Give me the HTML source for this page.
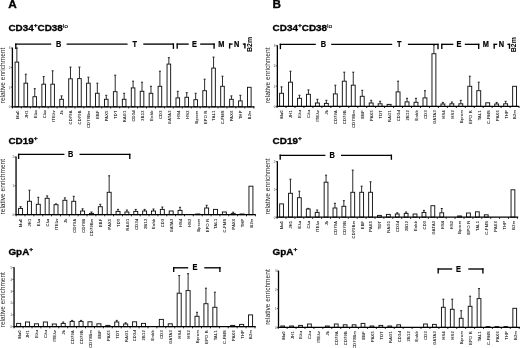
<!DOCTYPE html>
<html lang="en">
<head>
<meta charset="utf-8">
<title>Figure: relative enrichment in CD34+CD38lo, CD19+ and GpA+ cells</title>
<style>
html,body{margin:0;padding:0;background:#fff;}
body{width:520px;height:348px;overflow:hidden;font-family:"Liberation Sans",Arial,sans-serif;}
svg{display:block;}
svg text{font-family:"Liberation Sans",Arial,Helvetica,sans-serif;}
</style>
</head>
<body>
<svg width="520" height="348" viewBox="0 0 520 348">
<rect x="0" y="0" width="520" height="348" fill="#ffffff"/>
<g id="chart-A1">
<line x1="16.87" y1="62.1" x2="16.87" y2="48" stroke="#222" stroke-width="0.95" />
<line x1="15.87" y1="48" x2="17.87" y2="48" stroke="#222" stroke-width="1.0" />
<rect x="15.07" y="62.1" width="3.6" height="44.7" fill="#fff" stroke="#141414" stroke-width="0.95"/>
<line x1="25.81" y1="83.2" x2="25.81" y2="74.2" stroke="#222" stroke-width="0.95" />
<line x1="24.81" y1="74.2" x2="26.81" y2="74.2" stroke="#222" stroke-width="1.0" />
<rect x="24.01" y="83.2" width="3.6" height="23.6" fill="#fff" stroke="#141414" stroke-width="0.95"/>
<line x1="34.75" y1="96.7" x2="34.75" y2="88.7" stroke="#222" stroke-width="0.95" />
<line x1="33.75" y1="88.7" x2="35.75" y2="88.7" stroke="#222" stroke-width="1.0" />
<rect x="32.95" y="96.7" width="3.6" height="10.1" fill="#fff" stroke="#141414" stroke-width="0.95"/>
<line x1="43.69" y1="84.2" x2="43.69" y2="76.6" stroke="#222" stroke-width="0.95" />
<line x1="42.69" y1="76.6" x2="44.69" y2="76.6" stroke="#222" stroke-width="1.0" />
<rect x="41.89" y="84.2" width="3.6" height="22.6" fill="#fff" stroke="#141414" stroke-width="0.95"/>
<line x1="52.63" y1="84.2" x2="52.63" y2="70.8" stroke="#222" stroke-width="0.95" />
<line x1="51.63" y1="70.8" x2="53.63" y2="70.8" stroke="#222" stroke-width="1.0" />
<rect x="50.83" y="84.2" width="3.6" height="22.6" fill="#fff" stroke="#141414" stroke-width="0.95"/>
<line x1="61.57" y1="99.3" x2="61.57" y2="95.9" stroke="#222" stroke-width="0.95" />
<line x1="60.57" y1="95.9" x2="62.57" y2="95.9" stroke="#222" stroke-width="1.0" />
<rect x="59.77" y="99.3" width="3.6" height="7.5" fill="#fff" stroke="#141414" stroke-width="0.95"/>
<line x1="70.51" y1="78.8" x2="70.51" y2="67.1" stroke="#222" stroke-width="0.95" />
<line x1="69.51" y1="67.1" x2="71.51" y2="67.1" stroke="#222" stroke-width="1.0" />
<rect x="68.71" y="78.8" width="3.6" height="28" fill="#fff" stroke="#141414" stroke-width="0.95"/>
<line x1="79.45" y1="78.6" x2="79.45" y2="67.1" stroke="#222" stroke-width="0.95" />
<line x1="78.45" y1="67.1" x2="80.45" y2="67.1" stroke="#222" stroke-width="1.0" />
<rect x="77.65" y="78.6" width="3.6" height="28.2" fill="#fff" stroke="#141414" stroke-width="0.95"/>
<line x1="88.39" y1="83.2" x2="88.39" y2="77.2" stroke="#222" stroke-width="0.95" />
<line x1="87.39" y1="77.2" x2="89.39" y2="77.2" stroke="#222" stroke-width="1.0" />
<rect x="86.59" y="83.2" width="3.6" height="23.6" fill="#fff" stroke="#141414" stroke-width="0.95"/>
<line x1="97.33" y1="93.3" x2="97.33" y2="83.2" stroke="#222" stroke-width="0.95" />
<line x1="96.33" y1="83.2" x2="98.33" y2="83.2" stroke="#222" stroke-width="1.0" />
<rect x="95.53" y="93.3" width="3.6" height="13.5" fill="#fff" stroke="#141414" stroke-width="0.95"/>
<line x1="106.27" y1="99.3" x2="106.27" y2="95.3" stroke="#222" stroke-width="0.95" />
<line x1="105.27" y1="95.3" x2="107.27" y2="95.3" stroke="#222" stroke-width="1.0" />
<rect x="104.47" y="99.3" width="3.6" height="7.5" fill="#fff" stroke="#141414" stroke-width="0.95"/>
<line x1="115.21" y1="91.7" x2="115.21" y2="75.2" stroke="#222" stroke-width="0.95" />
<line x1="114.21" y1="75.2" x2="116.21" y2="75.2" stroke="#222" stroke-width="1.0" />
<rect x="113.41" y="91.7" width="3.6" height="15.1" fill="#fff" stroke="#141414" stroke-width="0.95"/>
<line x1="124.15" y1="99.3" x2="124.15" y2="93.3" stroke="#222" stroke-width="0.95" />
<line x1="123.15" y1="93.3" x2="125.15" y2="93.3" stroke="#222" stroke-width="1.0" />
<rect x="122.35" y="99.3" width="3.6" height="7.5" fill="#fff" stroke="#141414" stroke-width="0.95"/>
<line x1="133.09" y1="87.9" x2="133.09" y2="81.2" stroke="#222" stroke-width="0.95" />
<line x1="132.09" y1="81.2" x2="134.09" y2="81.2" stroke="#222" stroke-width="1.0" />
<rect x="131.29" y="87.9" width="3.6" height="18.9" fill="#fff" stroke="#141414" stroke-width="0.95"/>
<line x1="142.03" y1="91.3" x2="142.03" y2="82.2" stroke="#222" stroke-width="0.95" />
<line x1="141.03" y1="82.2" x2="143.03" y2="82.2" stroke="#222" stroke-width="1.0" />
<rect x="140.23" y="91.3" width="3.6" height="15.5" fill="#fff" stroke="#141414" stroke-width="0.95"/>
<line x1="150.97" y1="93.3" x2="150.97" y2="86.3" stroke="#222" stroke-width="0.95" />
<line x1="149.97" y1="86.3" x2="151.97" y2="86.3" stroke="#222" stroke-width="1.0" />
<rect x="149.17" y="93.3" width="3.6" height="13.5" fill="#fff" stroke="#141414" stroke-width="0.95"/>
<line x1="159.91" y1="86.3" x2="159.91" y2="71.2" stroke="#222" stroke-width="0.95" />
<line x1="158.91" y1="71.2" x2="160.91" y2="71.2" stroke="#222" stroke-width="1.0" />
<rect x="158.11" y="86.3" width="3.6" height="20.5" fill="#fff" stroke="#141414" stroke-width="0.95"/>
<line x1="168.85" y1="64.1" x2="168.85" y2="57.7" stroke="#222" stroke-width="0.95" />
<line x1="167.85" y1="57.7" x2="169.85" y2="57.7" stroke="#222" stroke-width="1.0" />
<rect x="167.05" y="64.1" width="3.6" height="42.7" fill="#fff" stroke="#141414" stroke-width="0.95"/>
<line x1="177.79" y1="97.9" x2="177.79" y2="91.3" stroke="#222" stroke-width="0.95" />
<line x1="176.79" y1="91.3" x2="178.79" y2="91.3" stroke="#222" stroke-width="1.0" />
<rect x="175.99" y="97.9" width="3.6" height="8.9" fill="#fff" stroke="#141414" stroke-width="0.95"/>
<line x1="186.73" y1="97.3" x2="186.73" y2="92.7" stroke="#222" stroke-width="0.95" />
<line x1="185.73" y1="92.7" x2="187.73" y2="92.7" stroke="#222" stroke-width="1.0" />
<rect x="184.93" y="97.3" width="3.6" height="9.5" fill="#fff" stroke="#141414" stroke-width="0.95"/>
<line x1="195.67" y1="99.7" x2="195.67" y2="93.3" stroke="#222" stroke-width="0.95" />
<line x1="194.67" y1="93.3" x2="196.67" y2="93.3" stroke="#222" stroke-width="1.0" />
<rect x="193.87" y="99.7" width="3.6" height="7.1" fill="#fff" stroke="#141414" stroke-width="0.95"/>
<line x1="204.61" y1="90.7" x2="204.61" y2="79.2" stroke="#222" stroke-width="0.95" />
<line x1="203.61" y1="79.2" x2="205.61" y2="79.2" stroke="#222" stroke-width="1.0" />
<rect x="202.81" y="90.7" width="3.6" height="16.1" fill="#fff" stroke="#141414" stroke-width="0.95"/>
<line x1="213.55" y1="68.1" x2="213.55" y2="57.1" stroke="#222" stroke-width="0.95" />
<line x1="212.55" y1="57.1" x2="214.55" y2="57.1" stroke="#222" stroke-width="1.0" />
<rect x="211.75" y="68.1" width="3.6" height="38.7" fill="#fff" stroke="#141414" stroke-width="0.95"/>
<line x1="222.49" y1="86.3" x2="222.49" y2="76.2" stroke="#222" stroke-width="0.95" />
<line x1="221.49" y1="76.2" x2="223.49" y2="76.2" stroke="#222" stroke-width="1.0" />
<rect x="220.69" y="86.3" width="3.6" height="20.5" fill="#fff" stroke="#141414" stroke-width="0.95"/>
<line x1="231.43" y1="99.3" x2="231.43" y2="95.9" stroke="#222" stroke-width="0.95" />
<line x1="230.43" y1="95.9" x2="232.43" y2="95.9" stroke="#222" stroke-width="1.0" />
<rect x="229.63" y="99.3" width="3.6" height="7.5" fill="#fff" stroke="#141414" stroke-width="0.95"/>
<line x1="240.37" y1="100.9" x2="240.37" y2="95.3" stroke="#222" stroke-width="0.95" />
<line x1="239.37" y1="95.3" x2="241.37" y2="95.3" stroke="#222" stroke-width="1.0" />
<rect x="238.57" y="100.9" width="3.6" height="5.9" fill="#fff" stroke="#141414" stroke-width="0.95"/>
<rect x="247.51" y="87.3" width="3.6" height="19.5" fill="#fff" stroke="#141414" stroke-width="0.95"/>
<line x1="12.4" y1="47.6" x2="12.4" y2="107.3" stroke="#000" stroke-width="1.3" />
<line x1="11.8" y1="106.8" x2="254.5" y2="106.8" stroke="#000" stroke-width="1.3" />
<line x1="10.7" y1="48" x2="12.4" y2="48" stroke="#333" stroke-width="0.8" />
<text x="10.4" y="49.4" font-size="2.9" font-weight="normal" text-anchor="end" fill="#444" >3</text>
<line x1="10.7" y1="67.6" x2="12.4" y2="67.6" stroke="#333" stroke-width="0.8" />
<text x="10.4" y="69" font-size="2.9" font-weight="normal" text-anchor="end" fill="#444" >2</text>
<line x1="10.7" y1="87.2" x2="12.4" y2="87.2" stroke="#333" stroke-width="0.8" />
<text x="10.4" y="88.6" font-size="2.9" font-weight="normal" text-anchor="end" fill="#444" >1</text>
<line x1="10.7" y1="106.8" x2="12.4" y2="106.8" stroke="#333" stroke-width="0.8" />
<text x="10.4" y="108.2" font-size="2.9" font-weight="normal" text-anchor="end" fill="#444" >0</text>
<line x1="12.4" y1="106.8" x2="12.4" y2="108.4" stroke="#000" stroke-width="0.9" />
<line x1="21.34" y1="106.8" x2="21.34" y2="108.4" stroke="#000" stroke-width="0.9" />
<line x1="30.28" y1="106.8" x2="30.28" y2="108.4" stroke="#000" stroke-width="0.9" />
<line x1="39.22" y1="106.8" x2="39.22" y2="108.4" stroke="#000" stroke-width="0.9" />
<line x1="48.16" y1="106.8" x2="48.16" y2="108.4" stroke="#000" stroke-width="0.9" />
<line x1="57.1" y1="106.8" x2="57.1" y2="108.4" stroke="#000" stroke-width="0.9" />
<line x1="66.04" y1="106.8" x2="66.04" y2="108.4" stroke="#000" stroke-width="0.9" />
<line x1="74.98" y1="106.8" x2="74.98" y2="108.4" stroke="#000" stroke-width="0.9" />
<line x1="83.92" y1="106.8" x2="83.92" y2="108.4" stroke="#000" stroke-width="0.9" />
<line x1="92.86" y1="106.8" x2="92.86" y2="108.4" stroke="#000" stroke-width="0.9" />
<line x1="101.8" y1="106.8" x2="101.8" y2="108.4" stroke="#000" stroke-width="0.9" />
<line x1="110.74" y1="106.8" x2="110.74" y2="108.4" stroke="#000" stroke-width="0.9" />
<line x1="119.68" y1="106.8" x2="119.68" y2="108.4" stroke="#000" stroke-width="0.9" />
<line x1="128.62" y1="106.8" x2="128.62" y2="108.4" stroke="#000" stroke-width="0.9" />
<line x1="137.56" y1="106.8" x2="137.56" y2="108.4" stroke="#000" stroke-width="0.9" />
<line x1="146.5" y1="106.8" x2="146.5" y2="108.4" stroke="#000" stroke-width="0.9" />
<line x1="155.44" y1="106.8" x2="155.44" y2="108.4" stroke="#000" stroke-width="0.9" />
<line x1="164.38" y1="106.8" x2="164.38" y2="108.4" stroke="#000" stroke-width="0.9" />
<line x1="173.32" y1="106.8" x2="173.32" y2="108.4" stroke="#000" stroke-width="0.9" />
<line x1="182.26" y1="106.8" x2="182.26" y2="108.4" stroke="#000" stroke-width="0.9" />
<line x1="191.2" y1="106.8" x2="191.2" y2="108.4" stroke="#000" stroke-width="0.9" />
<line x1="200.14" y1="106.8" x2="200.14" y2="108.4" stroke="#000" stroke-width="0.9" />
<line x1="209.08" y1="106.8" x2="209.08" y2="108.4" stroke="#000" stroke-width="0.9" />
<line x1="218.02" y1="106.8" x2="218.02" y2="108.4" stroke="#000" stroke-width="0.9" />
<line x1="226.96" y1="106.8" x2="226.96" y2="108.4" stroke="#000" stroke-width="0.9" />
<line x1="235.9" y1="106.8" x2="235.9" y2="108.4" stroke="#000" stroke-width="0.9" />
<line x1="244.84" y1="106.8" x2="244.84" y2="108.4" stroke="#000" stroke-width="0.9" />
<line x1="253.78" y1="106.8" x2="253.78" y2="108.4" stroke="#000" stroke-width="0.9" />
<text transform="translate(18.77 110.3) rotate(-90)" font-size="3.95" font-weight="normal" text-anchor="end" fill="#262626" letter-spacing="0.3" stroke="#262626" stroke-width="0.1">Mu0</text>
<text transform="translate(27.71 110.3) rotate(-90)" font-size="3.95" font-weight="normal" text-anchor="end" fill="#262626" letter-spacing="0.3" stroke="#262626" stroke-width="0.1">JH1</text>
<text transform="translate(36.65 110.3) rotate(-90)" font-size="3.95" font-weight="normal" text-anchor="end" fill="#262626" letter-spacing="0.3" stroke="#262626" stroke-width="0.1">Eλu</text>
<text transform="translate(45.59 110.3) rotate(-90)" font-size="3.95" font-weight="normal" text-anchor="end" fill="#262626" letter-spacing="0.3" stroke="#262626" stroke-width="0.1">Cλu</text>
<text transform="translate(54.53 110.3) rotate(-90)" font-size="3.95" font-weight="normal" text-anchor="end" fill="#262626" letter-spacing="0.3" stroke="#262626" stroke-width="0.1">ITEλv</text>
<text transform="translate(63.47 110.3) rotate(-90)" font-size="3.95" font-weight="normal" text-anchor="end" fill="#262626" letter-spacing="0.3" stroke="#262626" stroke-width="0.1">Jk</text>
<text transform="translate(72.41 110.3) rotate(-90)" font-size="3.95" font-weight="normal" text-anchor="end" fill="#262626" letter-spacing="0.3" stroke="#262626" stroke-width="0.1">CD79A</text>
<text transform="translate(81.35 110.3) rotate(-90)" font-size="3.95" font-weight="normal" text-anchor="end" fill="#262626" letter-spacing="0.3" stroke="#262626" stroke-width="0.1">CD79B</text>
<text transform="translate(90.29 110.3) rotate(-90)" font-size="3.95" font-weight="normal" text-anchor="end" fill="#262626" letter-spacing="0.3" stroke="#262626" stroke-width="0.1">CD79Bm</text>
<text transform="translate(99.23 110.3) rotate(-90)" font-size="3.95" font-weight="normal" text-anchor="end" fill="#262626" letter-spacing="0.3" stroke="#262626" stroke-width="0.1">EBF</text>
<text transform="translate(108.17 110.3) rotate(-90)" font-size="3.95" font-weight="normal" text-anchor="end" fill="#262626" letter-spacing="0.3" stroke="#262626" stroke-width="0.1">PAX5</text>
<text transform="translate(117.11 110.3) rotate(-90)" font-size="3.95" font-weight="normal" text-anchor="end" fill="#262626" letter-spacing="0.3" stroke="#262626" stroke-width="0.1">TDT</text>
<text transform="translate(126.05 110.3) rotate(-90)" font-size="3.95" font-weight="normal" text-anchor="end" fill="#262626" letter-spacing="0.3" stroke="#262626" stroke-width="0.1">RAG1</text>
<text transform="translate(134.99 110.3) rotate(-90)" font-size="3.95" font-weight="normal" text-anchor="end" fill="#262626" letter-spacing="0.3" stroke="#262626" stroke-width="0.1">CD3d</text>
<text transform="translate(143.93 110.3) rotate(-90)" font-size="3.95" font-weight="normal" text-anchor="end" fill="#262626" letter-spacing="0.3" stroke="#262626" stroke-width="0.1">2B12</text>
<text transform="translate(152.87 110.3) rotate(-90)" font-size="3.95" font-weight="normal" text-anchor="end" fill="#262626" letter-spacing="0.3" stroke="#262626" stroke-width="0.1">Enhb</text>
<text transform="translate(161.81 110.3) rotate(-90)" font-size="3.95" font-weight="normal" text-anchor="end" fill="#262626" letter-spacing="0.3" stroke="#262626" stroke-width="0.1">CD3</text>
<text transform="translate(170.75 110.3) rotate(-90)" font-size="3.95" font-weight="normal" text-anchor="end" fill="#262626" letter-spacing="0.3" stroke="#262626" stroke-width="0.1">GATA3</text>
<text transform="translate(179.69 110.3) rotate(-90)" font-size="3.95" font-weight="normal" text-anchor="end" fill="#262626" letter-spacing="0.3" stroke="#262626" stroke-width="0.1">HS4</text>
<text transform="translate(188.63 110.3) rotate(-90)" font-size="3.95" font-weight="normal" text-anchor="end" fill="#262626" letter-spacing="0.3" stroke="#262626" stroke-width="0.1">HS2</text>
<text transform="translate(197.57 110.3) rotate(-90)" font-size="3.95" font-weight="normal" text-anchor="end" fill="#262626" letter-spacing="0.3" stroke="#262626" stroke-width="0.1">Bprom</text>
<text transform="translate(206.51 110.3) rotate(-90)" font-size="3.95" font-weight="normal" text-anchor="end" fill="#262626" letter-spacing="0.3" stroke="#262626" stroke-width="0.1">EPO R</text>
<text transform="translate(215.45 110.3) rotate(-90)" font-size="3.95" font-weight="normal" text-anchor="end" fill="#262626" letter-spacing="0.3" stroke="#262626" stroke-width="0.1">TAL1</text>
<text transform="translate(224.39 110.3) rotate(-90)" font-size="3.95" font-weight="normal" text-anchor="end" fill="#262626" letter-spacing="0.3" stroke="#262626" stroke-width="0.1">C-FMS</text>
<text transform="translate(233.33 110.3) rotate(-90)" font-size="3.95" font-weight="normal" text-anchor="end" fill="#262626" letter-spacing="0.3" stroke="#262626" stroke-width="0.1">PAX6</text>
<text transform="translate(242.27 110.3) rotate(-90)" font-size="3.95" font-weight="normal" text-anchor="end" fill="#262626" letter-spacing="0.3" stroke="#262626" stroke-width="0.1">THP</text>
<text transform="translate(251.21 110.3) rotate(-90)" font-size="3.95" font-weight="normal" text-anchor="end" fill="#262626" letter-spacing="0.3" stroke="#262626" stroke-width="0.1">B2m</text>
<text transform="translate(5 75.5) rotate(-90) scale(1.02 1)" font-size="6.47" font-weight="normal" text-anchor="middle" fill="#262626" >relative enrichment</text>
</g>
<g id="chart-B1">
<line x1="281.55" y1="93.3" x2="281.55" y2="86.9" stroke="#222" stroke-width="0.95" />
<line x1="280.55" y1="86.9" x2="282.55" y2="86.9" stroke="#222" stroke-width="1.0" />
<rect x="279.6" y="93.3" width="3.9" height="13.1" fill="#fff" stroke="#141414" stroke-width="0.95"/>
<line x1="290.51" y1="82.2" x2="290.51" y2="71.2" stroke="#222" stroke-width="0.95" />
<line x1="289.51" y1="71.2" x2="291.51" y2="71.2" stroke="#222" stroke-width="1.0" />
<rect x="288.56" y="82.2" width="3.9" height="24.2" fill="#fff" stroke="#141414" stroke-width="0.95"/>
<line x1="299.48" y1="98.3" x2="299.48" y2="95.3" stroke="#222" stroke-width="0.95" />
<line x1="298.48" y1="95.3" x2="300.48" y2="95.3" stroke="#222" stroke-width="1.0" />
<rect x="297.53" y="98.3" width="3.9" height="8.1" fill="#fff" stroke="#141414" stroke-width="0.95"/>
<line x1="308.44" y1="94.3" x2="308.44" y2="89.9" stroke="#222" stroke-width="0.95" />
<line x1="307.44" y1="89.9" x2="309.44" y2="89.9" stroke="#222" stroke-width="1.0" />
<rect x="306.49" y="94.3" width="3.9" height="12.1" fill="#fff" stroke="#141414" stroke-width="0.95"/>
<line x1="317.4" y1="103" x2="317.4" y2="99.3" stroke="#222" stroke-width="0.95" />
<line x1="316.4" y1="99.3" x2="318.4" y2="99.3" stroke="#222" stroke-width="1.0" />
<rect x="315.45" y="103" width="3.9" height="3.4" fill="#fff" stroke="#141414" stroke-width="0.95"/>
<line x1="326.37" y1="103.4" x2="326.37" y2="100.3" stroke="#222" stroke-width="0.95" />
<line x1="325.37" y1="100.3" x2="327.37" y2="100.3" stroke="#222" stroke-width="1.0" />
<rect x="324.42" y="103.4" width="3.9" height="3" fill="#fff" stroke="#141414" stroke-width="0.95"/>
<line x1="335.33" y1="93.9" x2="335.33" y2="85.2" stroke="#222" stroke-width="0.95" />
<line x1="334.33" y1="85.2" x2="336.33" y2="85.2" stroke="#222" stroke-width="1.0" />
<rect x="333.38" y="93.9" width="3.9" height="12.5" fill="#fff" stroke="#141414" stroke-width="0.95"/>
<line x1="344.29" y1="81.2" x2="344.29" y2="72.2" stroke="#222" stroke-width="0.95" />
<line x1="343.29" y1="72.2" x2="345.29" y2="72.2" stroke="#222" stroke-width="1.0" />
<rect x="342.34" y="81.2" width="3.9" height="25.2" fill="#fff" stroke="#141414" stroke-width="0.95"/>
<line x1="353.25" y1="85.2" x2="353.25" y2="72.2" stroke="#222" stroke-width="0.95" />
<line x1="352.25" y1="72.2" x2="354.25" y2="72.2" stroke="#222" stroke-width="1.0" />
<rect x="351.3" y="85.2" width="3.9" height="21.2" fill="#fff" stroke="#141414" stroke-width="0.95"/>
<line x1="362.22" y1="96.3" x2="362.22" y2="90.3" stroke="#222" stroke-width="0.95" />
<line x1="361.22" y1="90.3" x2="363.22" y2="90.3" stroke="#222" stroke-width="1.0" />
<rect x="360.27" y="96.3" width="3.9" height="10.1" fill="#fff" stroke="#141414" stroke-width="0.95"/>
<line x1="371.18" y1="103" x2="371.18" y2="100.3" stroke="#222" stroke-width="0.95" />
<line x1="370.18" y1="100.3" x2="372.18" y2="100.3" stroke="#222" stroke-width="1.0" />
<rect x="369.23" y="103" width="3.9" height="3.4" fill="#fff" stroke="#141414" stroke-width="0.95"/>
<line x1="380.14" y1="103.8" x2="380.14" y2="101.3" stroke="#222" stroke-width="0.95" />
<line x1="379.14" y1="101.3" x2="381.14" y2="101.3" stroke="#222" stroke-width="1.0" />
<rect x="378.19" y="103.8" width="3.9" height="2.6" fill="#fff" stroke="#141414" stroke-width="0.95"/>
<rect x="387.16" y="104.4" width="3.9" height="2" fill="#fff" stroke="#141414" stroke-width="0.95"/>
<line x1="398.07" y1="91.9" x2="398.07" y2="81.2" stroke="#222" stroke-width="0.95" />
<line x1="397.07" y1="81.2" x2="399.07" y2="81.2" stroke="#222" stroke-width="1.0" />
<rect x="396.12" y="91.9" width="3.9" height="14.5" fill="#fff" stroke="#141414" stroke-width="0.95"/>
<line x1="407.03" y1="101.9" x2="407.03" y2="98.3" stroke="#222" stroke-width="0.95" />
<line x1="406.03" y1="98.3" x2="408.03" y2="98.3" stroke="#222" stroke-width="1.0" />
<rect x="405.08" y="101.9" width="3.9" height="4.5" fill="#fff" stroke="#141414" stroke-width="0.95"/>
<line x1="416" y1="102.3" x2="416" y2="98.3" stroke="#222" stroke-width="0.95" />
<line x1="415" y1="98.3" x2="417" y2="98.3" stroke="#222" stroke-width="1.0" />
<rect x="414.05" y="102.3" width="3.9" height="4.1" fill="#fff" stroke="#141414" stroke-width="0.95"/>
<line x1="424.96" y1="97.9" x2="424.96" y2="90.7" stroke="#222" stroke-width="0.95" />
<line x1="423.96" y1="90.7" x2="425.96" y2="90.7" stroke="#222" stroke-width="1.0" />
<rect x="423.01" y="97.9" width="3.9" height="8.5" fill="#fff" stroke="#141414" stroke-width="0.95"/>
<line x1="433.92" y1="53.7" x2="433.92" y2="45" stroke="#222" stroke-width="0.95" />
<line x1="432.92" y1="45" x2="434.92" y2="45" stroke="#222" stroke-width="1.0" />
<rect x="431.97" y="53.7" width="3.9" height="52.7" fill="#fff" stroke="#141414" stroke-width="0.95"/>
<line x1="442.88" y1="104" x2="442.88" y2="102.4" stroke="#222" stroke-width="0.95" />
<line x1="441.88" y1="102.4" x2="443.88" y2="102.4" stroke="#222" stroke-width="1.0" />
<rect x="440.93" y="104" width="3.9" height="2.4" fill="#fff" stroke="#141414" stroke-width="0.95"/>
<line x1="451.85" y1="103.8" x2="451.85" y2="102" stroke="#222" stroke-width="0.95" />
<line x1="450.85" y1="102" x2="452.85" y2="102" stroke="#222" stroke-width="1.0" />
<rect x="449.9" y="103.8" width="3.9" height="2.6" fill="#fff" stroke="#141414" stroke-width="0.95"/>
<line x1="460.81" y1="103.8" x2="460.81" y2="100.3" stroke="#222" stroke-width="0.95" />
<line x1="459.81" y1="100.3" x2="461.81" y2="100.3" stroke="#222" stroke-width="1.0" />
<rect x="458.86" y="103.8" width="3.9" height="2.6" fill="#fff" stroke="#141414" stroke-width="0.95"/>
<line x1="469.77" y1="86.3" x2="469.77" y2="76.2" stroke="#222" stroke-width="0.95" />
<line x1="468.77" y1="76.2" x2="470.77" y2="76.2" stroke="#222" stroke-width="1.0" />
<rect x="467.82" y="86.3" width="3.9" height="20.1" fill="#fff" stroke="#141414" stroke-width="0.95"/>
<line x1="478.74" y1="90.7" x2="478.74" y2="82.2" stroke="#222" stroke-width="0.95" />
<line x1="477.74" y1="82.2" x2="479.74" y2="82.2" stroke="#222" stroke-width="1.0" />
<rect x="476.79" y="90.7" width="3.9" height="15.7" fill="#fff" stroke="#141414" stroke-width="0.95"/>
<rect x="485.75" y="102.8" width="3.9" height="3.6" fill="#fff" stroke="#141414" stroke-width="0.95"/>
<line x1="496.66" y1="104" x2="496.66" y2="102.4" stroke="#222" stroke-width="0.95" />
<line x1="495.66" y1="102.4" x2="497.66" y2="102.4" stroke="#222" stroke-width="1.0" />
<rect x="494.71" y="104" width="3.9" height="2.4" fill="#fff" stroke="#141414" stroke-width="0.95"/>
<line x1="505.62" y1="103.8" x2="505.62" y2="101.3" stroke="#222" stroke-width="0.95" />
<line x1="504.62" y1="101.3" x2="506.62" y2="101.3" stroke="#222" stroke-width="1.0" />
<rect x="503.68" y="103.8" width="3.9" height="2.6" fill="#fff" stroke="#141414" stroke-width="0.95"/>
<rect x="512.64" y="86.3" width="3.9" height="20.1" fill="#fff" stroke="#141414" stroke-width="0.95"/>
<line x1="277.35" y1="45.2" x2="277.35" y2="106.9" stroke="#000" stroke-width="1.3" />
<line x1="276.75" y1="106.4" x2="519.2" y2="106.4" stroke="#000" stroke-width="1.3" />
<line x1="275.65" y1="45.6" x2="277.35" y2="45.6" stroke="#333" stroke-width="0.8" />
<text x="275.35" y="47" font-size="2.9" font-weight="normal" text-anchor="end" fill="#444" >3</text>
<line x1="275.65" y1="65.87" x2="277.35" y2="65.87" stroke="#333" stroke-width="0.8" />
<text x="275.35" y="67.27" font-size="2.9" font-weight="normal" text-anchor="end" fill="#444" >2</text>
<line x1="275.65" y1="86.13" x2="277.35" y2="86.13" stroke="#333" stroke-width="0.8" />
<text x="275.35" y="87.53" font-size="2.9" font-weight="normal" text-anchor="end" fill="#444" >1</text>
<line x1="275.65" y1="106.4" x2="277.35" y2="106.4" stroke="#333" stroke-width="0.8" />
<text x="275.35" y="107.8" font-size="2.9" font-weight="normal" text-anchor="end" fill="#444" >0</text>
<line x1="277.07" y1="106.4" x2="277.07" y2="108" stroke="#000" stroke-width="0.9" />
<line x1="286.03" y1="106.4" x2="286.03" y2="108" stroke="#000" stroke-width="0.9" />
<line x1="294.99" y1="106.4" x2="294.99" y2="108" stroke="#000" stroke-width="0.9" />
<line x1="303.96" y1="106.4" x2="303.96" y2="108" stroke="#000" stroke-width="0.9" />
<line x1="312.92" y1="106.4" x2="312.92" y2="108" stroke="#000" stroke-width="0.9" />
<line x1="321.88" y1="106.4" x2="321.88" y2="108" stroke="#000" stroke-width="0.9" />
<line x1="330.85" y1="106.4" x2="330.85" y2="108" stroke="#000" stroke-width="0.9" />
<line x1="339.81" y1="106.4" x2="339.81" y2="108" stroke="#000" stroke-width="0.9" />
<line x1="348.77" y1="106.4" x2="348.77" y2="108" stroke="#000" stroke-width="0.9" />
<line x1="357.74" y1="106.4" x2="357.74" y2="108" stroke="#000" stroke-width="0.9" />
<line x1="366.7" y1="106.4" x2="366.7" y2="108" stroke="#000" stroke-width="0.9" />
<line x1="375.66" y1="106.4" x2="375.66" y2="108" stroke="#000" stroke-width="0.9" />
<line x1="384.62" y1="106.4" x2="384.62" y2="108" stroke="#000" stroke-width="0.9" />
<line x1="393.59" y1="106.4" x2="393.59" y2="108" stroke="#000" stroke-width="0.9" />
<line x1="402.55" y1="106.4" x2="402.55" y2="108" stroke="#000" stroke-width="0.9" />
<line x1="411.51" y1="106.4" x2="411.51" y2="108" stroke="#000" stroke-width="0.9" />
<line x1="420.48" y1="106.4" x2="420.48" y2="108" stroke="#000" stroke-width="0.9" />
<line x1="429.44" y1="106.4" x2="429.44" y2="108" stroke="#000" stroke-width="0.9" />
<line x1="438.4" y1="106.4" x2="438.4" y2="108" stroke="#000" stroke-width="0.9" />
<line x1="447.37" y1="106.4" x2="447.37" y2="108" stroke="#000" stroke-width="0.9" />
<line x1="456.33" y1="106.4" x2="456.33" y2="108" stroke="#000" stroke-width="0.9" />
<line x1="465.29" y1="106.4" x2="465.29" y2="108" stroke="#000" stroke-width="0.9" />
<line x1="474.25" y1="106.4" x2="474.25" y2="108" stroke="#000" stroke-width="0.9" />
<line x1="483.22" y1="106.4" x2="483.22" y2="108" stroke="#000" stroke-width="0.9" />
<line x1="492.18" y1="106.4" x2="492.18" y2="108" stroke="#000" stroke-width="0.9" />
<line x1="501.14" y1="106.4" x2="501.14" y2="108" stroke="#000" stroke-width="0.9" />
<line x1="510.11" y1="106.4" x2="510.11" y2="108" stroke="#000" stroke-width="0.9" />
<line x1="519.07" y1="106.4" x2="519.07" y2="108" stroke="#000" stroke-width="0.9" />
<text transform="translate(283.45 110) rotate(-90)" font-size="3.95" font-weight="normal" text-anchor="end" fill="#262626" letter-spacing="0.3" stroke="#262626" stroke-width="0.1">Mu0</text>
<text transform="translate(292.41 110) rotate(-90)" font-size="3.95" font-weight="normal" text-anchor="end" fill="#262626" letter-spacing="0.3" stroke="#262626" stroke-width="0.1">JH1</text>
<text transform="translate(301.38 110) rotate(-90)" font-size="3.95" font-weight="normal" text-anchor="end" fill="#262626" letter-spacing="0.3" stroke="#262626" stroke-width="0.1">Eλu</text>
<text transform="translate(310.34 110) rotate(-90)" font-size="3.95" font-weight="normal" text-anchor="end" fill="#262626" letter-spacing="0.3" stroke="#262626" stroke-width="0.1">Cλu</text>
<text transform="translate(319.3 110) rotate(-90)" font-size="3.95" font-weight="normal" text-anchor="end" fill="#262626" letter-spacing="0.3" stroke="#262626" stroke-width="0.1">ITEλv</text>
<text transform="translate(328.26 110) rotate(-90)" font-size="3.95" font-weight="normal" text-anchor="end" fill="#262626" letter-spacing="0.3" stroke="#262626" stroke-width="0.1">Jk</text>
<text transform="translate(337.23 110) rotate(-90)" font-size="3.95" font-weight="normal" text-anchor="end" fill="#262626" letter-spacing="0.3" stroke="#262626" stroke-width="0.1">CD79A</text>
<text transform="translate(346.19 110) rotate(-90)" font-size="3.95" font-weight="normal" text-anchor="end" fill="#262626" letter-spacing="0.3" stroke="#262626" stroke-width="0.1">CD79B</text>
<text transform="translate(355.15 110) rotate(-90)" font-size="3.95" font-weight="normal" text-anchor="end" fill="#262626" letter-spacing="0.3" stroke="#262626" stroke-width="0.1">CD79Bm</text>
<text transform="translate(364.12 110) rotate(-90)" font-size="3.95" font-weight="normal" text-anchor="end" fill="#262626" letter-spacing="0.3" stroke="#262626" stroke-width="0.1">EBF</text>
<text transform="translate(373.08 110) rotate(-90)" font-size="3.95" font-weight="normal" text-anchor="end" fill="#262626" letter-spacing="0.3" stroke="#262626" stroke-width="0.1">PAX5</text>
<text transform="translate(382.04 110) rotate(-90)" font-size="3.95" font-weight="normal" text-anchor="end" fill="#262626" letter-spacing="0.3" stroke="#262626" stroke-width="0.1">TDT</text>
<text transform="translate(391.01 110) rotate(-90)" font-size="3.95" font-weight="normal" text-anchor="end" fill="#262626" letter-spacing="0.3" stroke="#262626" stroke-width="0.1">RAG1</text>
<text transform="translate(399.97 110) rotate(-90)" font-size="3.95" font-weight="normal" text-anchor="end" fill="#262626" letter-spacing="0.3" stroke="#262626" stroke-width="0.1">CD3d</text>
<text transform="translate(408.93 110) rotate(-90)" font-size="3.95" font-weight="normal" text-anchor="end" fill="#262626" letter-spacing="0.3" stroke="#262626" stroke-width="0.1">2B12</text>
<text transform="translate(417.89 110) rotate(-90)" font-size="3.95" font-weight="normal" text-anchor="end" fill="#262626" letter-spacing="0.3" stroke="#262626" stroke-width="0.1">Enhb</text>
<text transform="translate(426.86 110) rotate(-90)" font-size="3.95" font-weight="normal" text-anchor="end" fill="#262626" letter-spacing="0.3" stroke="#262626" stroke-width="0.1">CD3</text>
<text transform="translate(435.82 110) rotate(-90)" font-size="3.95" font-weight="normal" text-anchor="end" fill="#262626" letter-spacing="0.3" stroke="#262626" stroke-width="0.1">GATA3</text>
<text transform="translate(444.78 110) rotate(-90)" font-size="3.95" font-weight="normal" text-anchor="end" fill="#262626" letter-spacing="0.3" stroke="#262626" stroke-width="0.1">HS4</text>
<text transform="translate(453.75 110) rotate(-90)" font-size="3.95" font-weight="normal" text-anchor="end" fill="#262626" letter-spacing="0.3" stroke="#262626" stroke-width="0.1">HS2</text>
<text transform="translate(462.71 110) rotate(-90)" font-size="3.95" font-weight="normal" text-anchor="end" fill="#262626" letter-spacing="0.3" stroke="#262626" stroke-width="0.1">Bprom</text>
<text transform="translate(471.67 110) rotate(-90)" font-size="3.95" font-weight="normal" text-anchor="end" fill="#262626" letter-spacing="0.3" stroke="#262626" stroke-width="0.1">EPO R</text>
<text transform="translate(480.64 110) rotate(-90)" font-size="3.95" font-weight="normal" text-anchor="end" fill="#262626" letter-spacing="0.3" stroke="#262626" stroke-width="0.1">TAL1</text>
<text transform="translate(489.6 110) rotate(-90)" font-size="3.95" font-weight="normal" text-anchor="end" fill="#262626" letter-spacing="0.3" stroke="#262626" stroke-width="0.1">C-FMS</text>
<text transform="translate(498.56 110) rotate(-90)" font-size="3.95" font-weight="normal" text-anchor="end" fill="#262626" letter-spacing="0.3" stroke="#262626" stroke-width="0.1">PAX6</text>
<text transform="translate(507.52 110) rotate(-90)" font-size="3.95" font-weight="normal" text-anchor="end" fill="#262626" letter-spacing="0.3" stroke="#262626" stroke-width="0.1">THP</text>
<text transform="translate(516.49 110) rotate(-90)" font-size="3.95" font-weight="normal" text-anchor="end" fill="#262626" letter-spacing="0.3" stroke="#262626" stroke-width="0.1">B2m</text>
<text transform="translate(270 75.3) rotate(-90) scale(1.02 1)" font-size="6.47" font-weight="normal" text-anchor="middle" fill="#262626" >relative enrichment</text>
</g>
<g id="chart-A2">
<line x1="20.58" y1="208.4" x2="20.58" y2="206.7" stroke="#222" stroke-width="0.95" />
<line x1="19.58" y1="206.7" x2="21.58" y2="206.7" stroke="#222" stroke-width="1.0" />
<rect x="18.6" y="208.4" width="3.95" height="6.3" fill="#fff" stroke="#141414" stroke-width="0.95"/>
<line x1="29.44" y1="201.3" x2="29.44" y2="190.2" stroke="#222" stroke-width="0.95" />
<line x1="28.44" y1="190.2" x2="30.44" y2="190.2" stroke="#222" stroke-width="1.0" />
<rect x="27.46" y="201.3" width="3.95" height="13.4" fill="#fff" stroke="#141414" stroke-width="0.95"/>
<line x1="38.3" y1="204.3" x2="38.3" y2="197.3" stroke="#222" stroke-width="0.95" />
<line x1="37.3" y1="197.3" x2="39.3" y2="197.3" stroke="#222" stroke-width="1.0" />
<rect x="36.32" y="204.3" width="3.95" height="10.4" fill="#fff" stroke="#141414" stroke-width="0.95"/>
<line x1="47.16" y1="198.3" x2="47.16" y2="195.9" stroke="#222" stroke-width="0.95" />
<line x1="46.16" y1="195.9" x2="48.16" y2="195.9" stroke="#222" stroke-width="1.0" />
<rect x="45.18" y="198.3" width="3.95" height="16.4" fill="#fff" stroke="#141414" stroke-width="0.95"/>
<line x1="56.02" y1="204.7" x2="56.02" y2="203.9" stroke="#222" stroke-width="0.95" />
<line x1="55.02" y1="203.9" x2="57.02" y2="203.9" stroke="#222" stroke-width="1.0" />
<rect x="54.04" y="204.7" width="3.95" height="10" fill="#fff" stroke="#141414" stroke-width="0.95"/>
<line x1="64.88" y1="200.3" x2="64.88" y2="197.9" stroke="#222" stroke-width="0.95" />
<line x1="63.88" y1="197.9" x2="65.88" y2="197.9" stroke="#222" stroke-width="1.0" />
<rect x="62.9" y="200.3" width="3.95" height="14.4" fill="#fff" stroke="#141414" stroke-width="0.95"/>
<line x1="73.73" y1="201.3" x2="73.73" y2="196.3" stroke="#222" stroke-width="0.95" />
<line x1="72.73" y1="196.3" x2="74.73" y2="196.3" stroke="#222" stroke-width="1.0" />
<rect x="71.76" y="201.3" width="3.95" height="13.4" fill="#fff" stroke="#141414" stroke-width="0.95"/>
<line x1="82.59" y1="211" x2="82.59" y2="208.8" stroke="#222" stroke-width="0.95" />
<line x1="81.59" y1="208.8" x2="83.59" y2="208.8" stroke="#222" stroke-width="1.0" />
<rect x="80.62" y="211" width="3.95" height="3.7" fill="#fff" stroke="#141414" stroke-width="0.95"/>
<line x1="91.45" y1="213.4" x2="91.45" y2="212" stroke="#222" stroke-width="0.95" />
<line x1="90.45" y1="212" x2="92.45" y2="212" stroke="#222" stroke-width="1.0" />
<rect x="89.48" y="213.4" width="3.95" height="1.3" fill="#fff" stroke="#141414" stroke-width="0.95"/>
<line x1="100.31" y1="206.7" x2="100.31" y2="204.3" stroke="#222" stroke-width="0.95" />
<line x1="99.31" y1="204.3" x2="101.31" y2="204.3" stroke="#222" stroke-width="1.0" />
<rect x="98.34" y="206.7" width="3.95" height="8" fill="#fff" stroke="#141414" stroke-width="0.95"/>
<line x1="109.17" y1="192.3" x2="109.17" y2="175.8" stroke="#222" stroke-width="0.95" />
<line x1="108.17" y1="175.8" x2="110.17" y2="175.8" stroke="#222" stroke-width="1.0" />
<rect x="107.2" y="192.3" width="3.95" height="22.4" fill="#fff" stroke="#141414" stroke-width="0.95"/>
<line x1="118.03" y1="211.4" x2="118.03" y2="209.4" stroke="#222" stroke-width="0.95" />
<line x1="117.03" y1="209.4" x2="119.03" y2="209.4" stroke="#222" stroke-width="1.0" />
<rect x="116.06" y="211.4" width="3.95" height="3.3" fill="#fff" stroke="#141414" stroke-width="0.95"/>
<line x1="126.89" y1="212" x2="126.89" y2="210" stroke="#222" stroke-width="0.95" />
<line x1="125.89" y1="210" x2="127.89" y2="210" stroke="#222" stroke-width="1.0" />
<rect x="124.92" y="212" width="3.95" height="2.7" fill="#fff" stroke="#141414" stroke-width="0.95"/>
<line x1="135.75" y1="211.4" x2="135.75" y2="209.4" stroke="#222" stroke-width="0.95" />
<line x1="134.75" y1="209.4" x2="136.75" y2="209.4" stroke="#222" stroke-width="1.0" />
<rect x="133.78" y="211.4" width="3.95" height="3.3" fill="#fff" stroke="#141414" stroke-width="0.95"/>
<line x1="144.61" y1="211" x2="144.61" y2="209.4" stroke="#222" stroke-width="0.95" />
<line x1="143.61" y1="209.4" x2="145.61" y2="209.4" stroke="#222" stroke-width="1.0" />
<rect x="142.64" y="211" width="3.95" height="3.7" fill="#fff" stroke="#141414" stroke-width="0.95"/>
<line x1="153.47" y1="211" x2="153.47" y2="209" stroke="#222" stroke-width="0.95" />
<line x1="152.47" y1="209" x2="154.47" y2="209" stroke="#222" stroke-width="1.0" />
<rect x="151.5" y="211" width="3.95" height="3.7" fill="#fff" stroke="#141414" stroke-width="0.95"/>
<line x1="162.33" y1="209.4" x2="162.33" y2="207" stroke="#222" stroke-width="0.95" />
<line x1="161.33" y1="207" x2="163.33" y2="207" stroke="#222" stroke-width="1.0" />
<rect x="160.36" y="209.4" width="3.95" height="5.3" fill="#fff" stroke="#141414" stroke-width="0.95"/>
<rect x="169.22" y="211" width="3.95" height="3.7" fill="#fff" stroke="#141414" stroke-width="0.95"/>
<line x1="180.05" y1="210.4" x2="180.05" y2="207.3" stroke="#222" stroke-width="0.95" />
<line x1="179.05" y1="207.3" x2="181.05" y2="207.3" stroke="#222" stroke-width="1.0" />
<rect x="178.08" y="210.4" width="3.95" height="4.3" fill="#fff" stroke="#141414" stroke-width="0.95"/>
<rect x="195.8" y="214" width="3.95" height="0.7" fill="#fff" stroke="#141414" stroke-width="0.95"/>
<line x1="206.63" y1="208" x2="206.63" y2="205.3" stroke="#222" stroke-width="0.95" />
<line x1="205.63" y1="205.3" x2="207.63" y2="205.3" stroke="#222" stroke-width="1.0" />
<rect x="204.66" y="208" width="3.95" height="6.7" fill="#fff" stroke="#141414" stroke-width="0.95"/>
<rect x="213.52" y="209.4" width="3.95" height="5.3" fill="#fff" stroke="#141414" stroke-width="0.95"/>
<rect x="222.38" y="212" width="3.95" height="2.7" fill="#fff" stroke="#141414" stroke-width="0.95"/>
<line x1="233.21" y1="213.6" x2="233.21" y2="212.2" stroke="#222" stroke-width="0.95" />
<line x1="232.21" y1="212.2" x2="234.21" y2="212.2" stroke="#222" stroke-width="1.0" />
<rect x="231.24" y="213.6" width="3.95" height="1.1" fill="#fff" stroke="#141414" stroke-width="0.95"/>
<rect x="240.1" y="214" width="3.95" height="0.7" fill="#fff" stroke="#141414" stroke-width="0.95"/>
<rect x="248.96" y="186.2" width="3.95" height="28.5" fill="#fff" stroke="#141414" stroke-width="0.95"/>
<line x1="16.05" y1="156.6" x2="16.05" y2="215.2" stroke="#000" stroke-width="1.3" />
<line x1="15.45" y1="214.7" x2="255.8" y2="214.7" stroke="#000" stroke-width="1.3" />
<line x1="14.35" y1="157" x2="16.05" y2="157" stroke="#333" stroke-width="0.8" />
<text x="14.05" y="158.4" font-size="2.9" font-weight="normal" text-anchor="end" fill="#444" >2</text>
<line x1="14.35" y1="185.85" x2="16.05" y2="185.85" stroke="#333" stroke-width="0.8" />
<text x="14.05" y="187.25" font-size="2.9" font-weight="normal" text-anchor="end" fill="#444" >1</text>
<line x1="14.35" y1="214.7" x2="16.05" y2="214.7" stroke="#333" stroke-width="0.8" />
<text x="14.05" y="216.1" font-size="2.9" font-weight="normal" text-anchor="end" fill="#444" >0</text>
<line x1="16.15" y1="214.7" x2="16.15" y2="216.3" stroke="#000" stroke-width="0.9" />
<line x1="25.01" y1="214.7" x2="25.01" y2="216.3" stroke="#000" stroke-width="0.9" />
<line x1="33.87" y1="214.7" x2="33.87" y2="216.3" stroke="#000" stroke-width="0.9" />
<line x1="42.73" y1="214.7" x2="42.73" y2="216.3" stroke="#000" stroke-width="0.9" />
<line x1="51.59" y1="214.7" x2="51.59" y2="216.3" stroke="#000" stroke-width="0.9" />
<line x1="60.45" y1="214.7" x2="60.45" y2="216.3" stroke="#000" stroke-width="0.9" />
<line x1="69.31" y1="214.7" x2="69.31" y2="216.3" stroke="#000" stroke-width="0.9" />
<line x1="78.16" y1="214.7" x2="78.16" y2="216.3" stroke="#000" stroke-width="0.9" />
<line x1="87.03" y1="214.7" x2="87.03" y2="216.3" stroke="#000" stroke-width="0.9" />
<line x1="95.88" y1="214.7" x2="95.88" y2="216.3" stroke="#000" stroke-width="0.9" />
<line x1="104.75" y1="214.7" x2="104.75" y2="216.3" stroke="#000" stroke-width="0.9" />
<line x1="113.6" y1="214.7" x2="113.6" y2="216.3" stroke="#000" stroke-width="0.9" />
<line x1="122.47" y1="214.7" x2="122.47" y2="216.3" stroke="#000" stroke-width="0.9" />
<line x1="131.32" y1="214.7" x2="131.32" y2="216.3" stroke="#000" stroke-width="0.9" />
<line x1="140.19" y1="214.7" x2="140.19" y2="216.3" stroke="#000" stroke-width="0.9" />
<line x1="149.04" y1="214.7" x2="149.04" y2="216.3" stroke="#000" stroke-width="0.9" />
<line x1="157.91" y1="214.7" x2="157.91" y2="216.3" stroke="#000" stroke-width="0.9" />
<line x1="166.77" y1="214.7" x2="166.77" y2="216.3" stroke="#000" stroke-width="0.9" />
<line x1="175.62" y1="214.7" x2="175.62" y2="216.3" stroke="#000" stroke-width="0.9" />
<line x1="184.48" y1="214.7" x2="184.48" y2="216.3" stroke="#000" stroke-width="0.9" />
<line x1="193.34" y1="214.7" x2="193.34" y2="216.3" stroke="#000" stroke-width="0.9" />
<line x1="202.21" y1="214.7" x2="202.21" y2="216.3" stroke="#000" stroke-width="0.9" />
<line x1="211.06" y1="214.7" x2="211.06" y2="216.3" stroke="#000" stroke-width="0.9" />
<line x1="219.92" y1="214.7" x2="219.92" y2="216.3" stroke="#000" stroke-width="0.9" />
<line x1="228.78" y1="214.7" x2="228.78" y2="216.3" stroke="#000" stroke-width="0.9" />
<line x1="237.65" y1="214.7" x2="237.65" y2="216.3" stroke="#000" stroke-width="0.9" />
<line x1="246.5" y1="214.7" x2="246.5" y2="216.3" stroke="#000" stroke-width="0.9" />
<line x1="255.36" y1="214.7" x2="255.36" y2="216.3" stroke="#000" stroke-width="0.9" />
<text transform="translate(22.48 218.5) rotate(-90)" font-size="3.95" font-weight="normal" text-anchor="end" fill="#262626" letter-spacing="0.3" stroke="#262626" stroke-width="0.1">Mu0</text>
<text transform="translate(31.34 218.5) rotate(-90)" font-size="3.95" font-weight="normal" text-anchor="end" fill="#262626" letter-spacing="0.3" stroke="#262626" stroke-width="0.1">JH1</text>
<text transform="translate(40.2 218.5) rotate(-90)" font-size="3.95" font-weight="normal" text-anchor="end" fill="#262626" letter-spacing="0.3" stroke="#262626" stroke-width="0.1">Eλu</text>
<text transform="translate(49.05 218.5) rotate(-90)" font-size="3.95" font-weight="normal" text-anchor="end" fill="#262626" letter-spacing="0.3" stroke="#262626" stroke-width="0.1">Cλu</text>
<text transform="translate(57.91 218.5) rotate(-90)" font-size="3.95" font-weight="normal" text-anchor="end" fill="#262626" letter-spacing="0.3" stroke="#262626" stroke-width="0.1">ITEλv</text>
<text transform="translate(66.78 218.5) rotate(-90)" font-size="3.95" font-weight="normal" text-anchor="end" fill="#262626" letter-spacing="0.3" stroke="#262626" stroke-width="0.1">Jk</text>
<text transform="translate(75.63 218.5) rotate(-90)" font-size="3.95" font-weight="normal" text-anchor="end" fill="#262626" letter-spacing="0.3" stroke="#262626" stroke-width="0.1">CD79A</text>
<text transform="translate(84.5 218.5) rotate(-90)" font-size="3.95" font-weight="normal" text-anchor="end" fill="#262626" letter-spacing="0.3" stroke="#262626" stroke-width="0.1">CD79B</text>
<text transform="translate(93.35 218.5) rotate(-90)" font-size="3.95" font-weight="normal" text-anchor="end" fill="#262626" letter-spacing="0.3" stroke="#262626" stroke-width="0.1">CD79Bm</text>
<text transform="translate(102.22 218.5) rotate(-90)" font-size="3.95" font-weight="normal" text-anchor="end" fill="#262626" letter-spacing="0.3" stroke="#262626" stroke-width="0.1">EBF</text>
<text transform="translate(111.07 218.5) rotate(-90)" font-size="3.95" font-weight="normal" text-anchor="end" fill="#262626" letter-spacing="0.3" stroke="#262626" stroke-width="0.1">PAX5</text>
<text transform="translate(119.94 218.5) rotate(-90)" font-size="3.95" font-weight="normal" text-anchor="end" fill="#262626" letter-spacing="0.3" stroke="#262626" stroke-width="0.1">TDT</text>
<text transform="translate(128.79 218.5) rotate(-90)" font-size="3.95" font-weight="normal" text-anchor="end" fill="#262626" letter-spacing="0.3" stroke="#262626" stroke-width="0.1">RAG1</text>
<text transform="translate(137.66 218.5) rotate(-90)" font-size="3.95" font-weight="normal" text-anchor="end" fill="#262626" letter-spacing="0.3" stroke="#262626" stroke-width="0.1">CD3d</text>
<text transform="translate(146.51 218.5) rotate(-90)" font-size="3.95" font-weight="normal" text-anchor="end" fill="#262626" letter-spacing="0.3" stroke="#262626" stroke-width="0.1">2B12</text>
<text transform="translate(155.37 218.5) rotate(-90)" font-size="3.95" font-weight="normal" text-anchor="end" fill="#262626" letter-spacing="0.3" stroke="#262626" stroke-width="0.1">Enhb</text>
<text transform="translate(164.23 218.5) rotate(-90)" font-size="3.95" font-weight="normal" text-anchor="end" fill="#262626" letter-spacing="0.3" stroke="#262626" stroke-width="0.1">CD3</text>
<text transform="translate(173.09 218.5) rotate(-90)" font-size="3.95" font-weight="normal" text-anchor="end" fill="#262626" letter-spacing="0.3" stroke="#262626" stroke-width="0.1">GATA3</text>
<text transform="translate(181.95 218.5) rotate(-90)" font-size="3.95" font-weight="normal" text-anchor="end" fill="#262626" letter-spacing="0.3" stroke="#262626" stroke-width="0.1">HS4</text>
<text transform="translate(190.81 218.5) rotate(-90)" font-size="3.95" font-weight="normal" text-anchor="end" fill="#262626" letter-spacing="0.3" stroke="#262626" stroke-width="0.1">HS2</text>
<text transform="translate(199.67 218.5) rotate(-90)" font-size="3.95" font-weight="normal" text-anchor="end" fill="#262626" letter-spacing="0.3" stroke="#262626" stroke-width="0.1">Bprom</text>
<text transform="translate(208.53 218.5) rotate(-90)" font-size="3.95" font-weight="normal" text-anchor="end" fill="#262626" letter-spacing="0.3" stroke="#262626" stroke-width="0.1">EPO R</text>
<text transform="translate(217.39 218.5) rotate(-90)" font-size="3.95" font-weight="normal" text-anchor="end" fill="#262626" letter-spacing="0.3" stroke="#262626" stroke-width="0.1">TAL1</text>
<text transform="translate(226.25 218.5) rotate(-90)" font-size="3.95" font-weight="normal" text-anchor="end" fill="#262626" letter-spacing="0.3" stroke="#262626" stroke-width="0.1">C-FMS</text>
<text transform="translate(235.11 218.5) rotate(-90)" font-size="3.95" font-weight="normal" text-anchor="end" fill="#262626" letter-spacing="0.3" stroke="#262626" stroke-width="0.1">PAX6</text>
<text transform="translate(243.97 218.5) rotate(-90)" font-size="3.95" font-weight="normal" text-anchor="end" fill="#262626" letter-spacing="0.3" stroke="#262626" stroke-width="0.1">THP</text>
<text transform="translate(252.83 218.5) rotate(-90)" font-size="3.95" font-weight="normal" text-anchor="end" fill="#262626" letter-spacing="0.3" stroke="#262626" stroke-width="0.1">B2m</text>
<text transform="translate(5 186.7) rotate(-90) scale(1.02 1)" font-size="6.45" font-weight="normal" text-anchor="middle" fill="#262626" >relative enrichment</text>
</g>
<g id="chart-B2">
<rect x="279.65" y="203.9" width="3.8" height="13.3" fill="#fff" stroke="#141414" stroke-width="0.95"/>
<line x1="290.45" y1="193.3" x2="290.45" y2="179.2" stroke="#222" stroke-width="0.95" />
<line x1="289.45" y1="179.2" x2="291.45" y2="179.2" stroke="#222" stroke-width="1.0" />
<rect x="288.55" y="193.3" width="3.8" height="23.9" fill="#fff" stroke="#141414" stroke-width="0.95"/>
<line x1="299.35" y1="197.7" x2="299.35" y2="191.2" stroke="#222" stroke-width="0.95" />
<line x1="298.35" y1="191.2" x2="300.35" y2="191.2" stroke="#222" stroke-width="1.0" />
<rect x="297.45" y="197.7" width="3.8" height="19.5" fill="#fff" stroke="#141414" stroke-width="0.95"/>
<line x1="308.25" y1="209" x2="308.25" y2="208.4" stroke="#222" stroke-width="0.95" />
<line x1="307.25" y1="208.4" x2="309.25" y2="208.4" stroke="#222" stroke-width="1.0" />
<rect x="306.35" y="209" width="3.8" height="8.2" fill="#fff" stroke="#141414" stroke-width="0.95"/>
<line x1="317.15" y1="212.4" x2="317.15" y2="210" stroke="#222" stroke-width="0.95" />
<line x1="316.15" y1="210" x2="318.15" y2="210" stroke="#222" stroke-width="1.0" />
<rect x="315.25" y="212.4" width="3.8" height="4.8" fill="#fff" stroke="#141414" stroke-width="0.95"/>
<line x1="326.05" y1="182.2" x2="326.05" y2="175.2" stroke="#222" stroke-width="0.95" />
<line x1="325.05" y1="175.2" x2="327.05" y2="175.2" stroke="#222" stroke-width="1.0" />
<rect x="324.15" y="182.2" width="3.8" height="35" fill="#fff" stroke="#141414" stroke-width="0.95"/>
<line x1="334.95" y1="208" x2="334.95" y2="203.3" stroke="#222" stroke-width="0.95" />
<line x1="333.95" y1="203.3" x2="335.95" y2="203.3" stroke="#222" stroke-width="1.0" />
<rect x="333.05" y="208" width="3.8" height="9.2" fill="#fff" stroke="#141414" stroke-width="0.95"/>
<line x1="343.85" y1="206.3" x2="343.85" y2="200.7" stroke="#222" stroke-width="0.95" />
<line x1="342.85" y1="200.7" x2="344.85" y2="200.7" stroke="#222" stroke-width="1.0" />
<rect x="341.95" y="206.3" width="3.8" height="10.9" fill="#fff" stroke="#141414" stroke-width="0.95"/>
<line x1="352.75" y1="192.3" x2="352.75" y2="170.1" stroke="#222" stroke-width="0.95" />
<line x1="351.75" y1="170.1" x2="353.75" y2="170.1" stroke="#222" stroke-width="1.0" />
<rect x="350.85" y="192.3" width="3.8" height="24.9" fill="#fff" stroke="#141414" stroke-width="0.95"/>
<line x1="361.65" y1="192.3" x2="361.65" y2="186.2" stroke="#222" stroke-width="0.95" />
<line x1="360.65" y1="186.2" x2="362.65" y2="186.2" stroke="#222" stroke-width="1.0" />
<rect x="359.75" y="192.3" width="3.8" height="24.9" fill="#fff" stroke="#141414" stroke-width="0.95"/>
<line x1="370.55" y1="192.3" x2="370.55" y2="181.8" stroke="#222" stroke-width="0.95" />
<line x1="369.55" y1="181.8" x2="371.55" y2="181.8" stroke="#222" stroke-width="1.0" />
<rect x="368.65" y="192.3" width="3.8" height="24.9" fill="#fff" stroke="#141414" stroke-width="0.95"/>
<rect x="377.55" y="215.4" width="3.8" height="1.8" fill="#fff" stroke="#141414" stroke-width="0.95"/>
<rect x="386.45" y="214.4" width="3.8" height="2.8" fill="#fff" stroke="#141414" stroke-width="0.95"/>
<line x1="397.25" y1="214" x2="397.25" y2="212.8" stroke="#222" stroke-width="0.95" />
<line x1="396.25" y1="212.8" x2="398.25" y2="212.8" stroke="#222" stroke-width="1.0" />
<rect x="395.35" y="214" width="3.8" height="3.2" fill="#fff" stroke="#141414" stroke-width="0.95"/>
<line x1="406.15" y1="213.4" x2="406.15" y2="212" stroke="#222" stroke-width="0.95" />
<line x1="405.15" y1="212" x2="407.15" y2="212" stroke="#222" stroke-width="1.0" />
<rect x="404.25" y="213.4" width="3.8" height="3.8" fill="#fff" stroke="#141414" stroke-width="0.95"/>
<rect x="413.15" y="214" width="3.8" height="3.2" fill="#fff" stroke="#141414" stroke-width="0.95"/>
<line x1="423.95" y1="212.4" x2="423.95" y2="210.4" stroke="#222" stroke-width="0.95" />
<line x1="422.95" y1="210.4" x2="424.95" y2="210.4" stroke="#222" stroke-width="1.0" />
<rect x="422.05" y="212.4" width="3.8" height="4.8" fill="#fff" stroke="#141414" stroke-width="0.95"/>
<rect x="430.95" y="205.7" width="3.8" height="11.5" fill="#fff" stroke="#141414" stroke-width="0.95"/>
<line x1="441.75" y1="212.8" x2="441.75" y2="208.5" stroke="#222" stroke-width="0.95" />
<line x1="440.75" y1="208.5" x2="442.75" y2="208.5" stroke="#222" stroke-width="1.0" />
<rect x="439.85" y="212.8" width="3.8" height="4.4" fill="#fff" stroke="#141414" stroke-width="0.95"/>
<rect x="457.65" y="216" width="3.8" height="1.2" fill="#fff" stroke="#141414" stroke-width="0.95"/>
<rect x="466.55" y="213" width="3.8" height="4.2" fill="#fff" stroke="#141414" stroke-width="0.95"/>
<rect x="475.45" y="211.8" width="3.8" height="5.4" fill="#fff" stroke="#141414" stroke-width="0.95"/>
<rect x="484.35" y="214.8" width="3.8" height="2.4" fill="#fff" stroke="#141414" stroke-width="0.95"/>
<rect x="511.05" y="189.8" width="3.8" height="27.4" fill="#fff" stroke="#141414" stroke-width="0.95"/>
<line x1="277.35" y1="161.2" x2="277.35" y2="217.7" stroke="#000" stroke-width="1.3" />
<line x1="276.75" y1="217.2" x2="518.2" y2="217.2" stroke="#000" stroke-width="1.3" />
<line x1="275.65" y1="161.6" x2="277.35" y2="161.6" stroke="#333" stroke-width="0.8" />
<text x="275.35" y="163" font-size="2.9" font-weight="normal" text-anchor="end" fill="#444" >2</text>
<line x1="275.65" y1="189.4" x2="277.35" y2="189.4" stroke="#333" stroke-width="0.8" />
<text x="275.35" y="190.8" font-size="2.9" font-weight="normal" text-anchor="end" fill="#444" >1</text>
<line x1="275.65" y1="217.2" x2="277.35" y2="217.2" stroke="#333" stroke-width="0.8" />
<text x="275.35" y="218.6" font-size="2.9" font-weight="normal" text-anchor="end" fill="#444" >0</text>
<line x1="277.1" y1="217.2" x2="277.1" y2="218.8" stroke="#000" stroke-width="0.9" />
<line x1="286" y1="217.2" x2="286" y2="218.8" stroke="#000" stroke-width="0.9" />
<line x1="294.9" y1="217.2" x2="294.9" y2="218.8" stroke="#000" stroke-width="0.9" />
<line x1="303.8" y1="217.2" x2="303.8" y2="218.8" stroke="#000" stroke-width="0.9" />
<line x1="312.7" y1="217.2" x2="312.7" y2="218.8" stroke="#000" stroke-width="0.9" />
<line x1="321.6" y1="217.2" x2="321.6" y2="218.8" stroke="#000" stroke-width="0.9" />
<line x1="330.5" y1="217.2" x2="330.5" y2="218.8" stroke="#000" stroke-width="0.9" />
<line x1="339.4" y1="217.2" x2="339.4" y2="218.8" stroke="#000" stroke-width="0.9" />
<line x1="348.3" y1="217.2" x2="348.3" y2="218.8" stroke="#000" stroke-width="0.9" />
<line x1="357.2" y1="217.2" x2="357.2" y2="218.8" stroke="#000" stroke-width="0.9" />
<line x1="366.1" y1="217.2" x2="366.1" y2="218.8" stroke="#000" stroke-width="0.9" />
<line x1="375" y1="217.2" x2="375" y2="218.8" stroke="#000" stroke-width="0.9" />
<line x1="383.9" y1="217.2" x2="383.9" y2="218.8" stroke="#000" stroke-width="0.9" />
<line x1="392.8" y1="217.2" x2="392.8" y2="218.8" stroke="#000" stroke-width="0.9" />
<line x1="401.7" y1="217.2" x2="401.7" y2="218.8" stroke="#000" stroke-width="0.9" />
<line x1="410.6" y1="217.2" x2="410.6" y2="218.8" stroke="#000" stroke-width="0.9" />
<line x1="419.5" y1="217.2" x2="419.5" y2="218.8" stroke="#000" stroke-width="0.9" />
<line x1="428.4" y1="217.2" x2="428.4" y2="218.8" stroke="#000" stroke-width="0.9" />
<line x1="437.3" y1="217.2" x2="437.3" y2="218.8" stroke="#000" stroke-width="0.9" />
<line x1="446.2" y1="217.2" x2="446.2" y2="218.8" stroke="#000" stroke-width="0.9" />
<line x1="455.1" y1="217.2" x2="455.1" y2="218.8" stroke="#000" stroke-width="0.9" />
<line x1="464" y1="217.2" x2="464" y2="218.8" stroke="#000" stroke-width="0.9" />
<line x1="472.9" y1="217.2" x2="472.9" y2="218.8" stroke="#000" stroke-width="0.9" />
<line x1="481.8" y1="217.2" x2="481.8" y2="218.8" stroke="#000" stroke-width="0.9" />
<line x1="490.7" y1="217.2" x2="490.7" y2="218.8" stroke="#000" stroke-width="0.9" />
<line x1="499.6" y1="217.2" x2="499.6" y2="218.8" stroke="#000" stroke-width="0.9" />
<line x1="508.5" y1="217.2" x2="508.5" y2="218.8" stroke="#000" stroke-width="0.9" />
<line x1="517.4" y1="217.2" x2="517.4" y2="218.8" stroke="#000" stroke-width="0.9" />
<text transform="translate(283.45 220.7) rotate(-90)" font-size="3.95" font-weight="normal" text-anchor="end" fill="#262626" letter-spacing="0.3" stroke="#262626" stroke-width="0.1">Mu0</text>
<text transform="translate(292.35 220.7) rotate(-90)" font-size="3.95" font-weight="normal" text-anchor="end" fill="#262626" letter-spacing="0.3" stroke="#262626" stroke-width="0.1">JH1</text>
<text transform="translate(301.25 220.7) rotate(-90)" font-size="3.95" font-weight="normal" text-anchor="end" fill="#262626" letter-spacing="0.3" stroke="#262626" stroke-width="0.1">Eλu</text>
<text transform="translate(310.15 220.7) rotate(-90)" font-size="3.95" font-weight="normal" text-anchor="end" fill="#262626" letter-spacing="0.3" stroke="#262626" stroke-width="0.1">Cλu</text>
<text transform="translate(319.05 220.7) rotate(-90)" font-size="3.95" font-weight="normal" text-anchor="end" fill="#262626" letter-spacing="0.3" stroke="#262626" stroke-width="0.1">ITEλv</text>
<text transform="translate(327.95 220.7) rotate(-90)" font-size="3.95" font-weight="normal" text-anchor="end" fill="#262626" letter-spacing="0.3" stroke="#262626" stroke-width="0.1">Jk</text>
<text transform="translate(336.85 220.7) rotate(-90)" font-size="3.95" font-weight="normal" text-anchor="end" fill="#262626" letter-spacing="0.3" stroke="#262626" stroke-width="0.1">CD79A</text>
<text transform="translate(345.75 220.7) rotate(-90)" font-size="3.95" font-weight="normal" text-anchor="end" fill="#262626" letter-spacing="0.3" stroke="#262626" stroke-width="0.1">CD79B</text>
<text transform="translate(354.65 220.7) rotate(-90)" font-size="3.95" font-weight="normal" text-anchor="end" fill="#262626" letter-spacing="0.3" stroke="#262626" stroke-width="0.1">CD79Bm</text>
<text transform="translate(363.55 220.7) rotate(-90)" font-size="3.95" font-weight="normal" text-anchor="end" fill="#262626" letter-spacing="0.3" stroke="#262626" stroke-width="0.1">EBF</text>
<text transform="translate(372.45 220.7) rotate(-90)" font-size="3.95" font-weight="normal" text-anchor="end" fill="#262626" letter-spacing="0.3" stroke="#262626" stroke-width="0.1">PAX5</text>
<text transform="translate(381.35 220.7) rotate(-90)" font-size="3.95" font-weight="normal" text-anchor="end" fill="#262626" letter-spacing="0.3" stroke="#262626" stroke-width="0.1">TDT</text>
<text transform="translate(390.25 220.7) rotate(-90)" font-size="3.95" font-weight="normal" text-anchor="end" fill="#262626" letter-spacing="0.3" stroke="#262626" stroke-width="0.1">RAG1</text>
<text transform="translate(399.15 220.7) rotate(-90)" font-size="3.95" font-weight="normal" text-anchor="end" fill="#262626" letter-spacing="0.3" stroke="#262626" stroke-width="0.1">CD3d</text>
<text transform="translate(408.05 220.7) rotate(-90)" font-size="3.95" font-weight="normal" text-anchor="end" fill="#262626" letter-spacing="0.3" stroke="#262626" stroke-width="0.1">2B12</text>
<text transform="translate(416.95 220.7) rotate(-90)" font-size="3.95" font-weight="normal" text-anchor="end" fill="#262626" letter-spacing="0.3" stroke="#262626" stroke-width="0.1">Enhb</text>
<text transform="translate(425.85 220.7) rotate(-90)" font-size="3.95" font-weight="normal" text-anchor="end" fill="#262626" letter-spacing="0.3" stroke="#262626" stroke-width="0.1">CD3</text>
<text transform="translate(434.75 220.7) rotate(-90)" font-size="3.95" font-weight="normal" text-anchor="end" fill="#262626" letter-spacing="0.3" stroke="#262626" stroke-width="0.1">GATA3</text>
<text transform="translate(443.65 220.7) rotate(-90)" font-size="3.95" font-weight="normal" text-anchor="end" fill="#262626" letter-spacing="0.3" stroke="#262626" stroke-width="0.1">HS4</text>
<text transform="translate(452.55 220.7) rotate(-90)" font-size="3.95" font-weight="normal" text-anchor="end" fill="#262626" letter-spacing="0.3" stroke="#262626" stroke-width="0.1">HS2</text>
<text transform="translate(461.45 220.7) rotate(-90)" font-size="3.95" font-weight="normal" text-anchor="end" fill="#262626" letter-spacing="0.3" stroke="#262626" stroke-width="0.1">Bprom</text>
<text transform="translate(470.35 220.7) rotate(-90)" font-size="3.95" font-weight="normal" text-anchor="end" fill="#262626" letter-spacing="0.3" stroke="#262626" stroke-width="0.1">EPO R</text>
<text transform="translate(479.25 220.7) rotate(-90)" font-size="3.95" font-weight="normal" text-anchor="end" fill="#262626" letter-spacing="0.3" stroke="#262626" stroke-width="0.1">TAL1</text>
<text transform="translate(488.15 220.7) rotate(-90)" font-size="3.95" font-weight="normal" text-anchor="end" fill="#262626" letter-spacing="0.3" stroke="#262626" stroke-width="0.1">C-FMS</text>
<text transform="translate(497.05 220.7) rotate(-90)" font-size="3.95" font-weight="normal" text-anchor="end" fill="#262626" letter-spacing="0.3" stroke="#262626" stroke-width="0.1">PAX6</text>
<text transform="translate(505.95 220.7) rotate(-90)" font-size="3.95" font-weight="normal" text-anchor="end" fill="#262626" letter-spacing="0.3" stroke="#262626" stroke-width="0.1">THP</text>
<text transform="translate(514.85 220.7) rotate(-90)" font-size="3.95" font-weight="normal" text-anchor="end" fill="#262626" letter-spacing="0.3" stroke="#262626" stroke-width="0.1">B2m</text>
<text transform="translate(270 186.4) rotate(-90) scale(1.02 1)" font-size="6.5" font-weight="normal" text-anchor="middle" fill="#262626" >relative enrichment</text>
</g>
<g id="chart-A3">
<rect x="16.6" y="323.4" width="4.05" height="3.3" fill="#fff" stroke="#141414" stroke-width="0.95"/>
<rect x="25.52" y="322" width="4.05" height="4.7" fill="#fff" stroke="#141414" stroke-width="0.95"/>
<rect x="34.44" y="323.8" width="4.05" height="2.9" fill="#fff" stroke="#141414" stroke-width="0.95"/>
<rect x="43.36" y="322" width="4.05" height="4.7" fill="#fff" stroke="#141414" stroke-width="0.95"/>
<rect x="52.28" y="324" width="4.05" height="2.7" fill="#fff" stroke="#141414" stroke-width="0.95"/>
<line x1="63.23" y1="323.4" x2="63.23" y2="322" stroke="#222" stroke-width="0.95" />
<line x1="62.23" y1="322" x2="64.22" y2="322" stroke="#222" stroke-width="1.0" />
<rect x="61.2" y="323.4" width="4.05" height="3.3" fill="#fff" stroke="#141414" stroke-width="0.95"/>
<line x1="72.15" y1="321.4" x2="72.15" y2="320.4" stroke="#222" stroke-width="0.95" />
<line x1="71.15" y1="320.4" x2="73.15" y2="320.4" stroke="#222" stroke-width="1.0" />
<rect x="70.12" y="321.4" width="4.05" height="5.3" fill="#fff" stroke="#141414" stroke-width="0.95"/>
<line x1="81.06" y1="321.4" x2="81.06" y2="320.4" stroke="#222" stroke-width="0.95" />
<line x1="80.06" y1="320.4" x2="82.06" y2="320.4" stroke="#222" stroke-width="1.0" />
<rect x="79.04" y="321.4" width="4.05" height="5.3" fill="#fff" stroke="#141414" stroke-width="0.95"/>
<rect x="87.96" y="321.8" width="4.05" height="4.9" fill="#fff" stroke="#141414" stroke-width="0.95"/>
<rect x="96.88" y="323.8" width="4.05" height="2.9" fill="#fff" stroke="#141414" stroke-width="0.95"/>
<rect x="105.8" y="325.4" width="4.05" height="1.3" fill="#fff" stroke="#141414" stroke-width="0.95"/>
<line x1="116.75" y1="322" x2="116.75" y2="320.4" stroke="#222" stroke-width="0.95" />
<line x1="115.75" y1="320.4" x2="117.75" y2="320.4" stroke="#222" stroke-width="1.0" />
<rect x="114.72" y="322" width="4.05" height="4.7" fill="#fff" stroke="#141414" stroke-width="0.95"/>
<line x1="125.66" y1="324" x2="125.66" y2="322.8" stroke="#222" stroke-width="0.95" />
<line x1="124.66" y1="322.8" x2="126.66" y2="322.8" stroke="#222" stroke-width="1.0" />
<rect x="123.64" y="324" width="4.05" height="2.7" fill="#fff" stroke="#141414" stroke-width="0.95"/>
<rect x="132.56" y="321.8" width="4.05" height="4.9" fill="#fff" stroke="#141414" stroke-width="0.95"/>
<rect x="141.48" y="323.4" width="4.05" height="3.3" fill="#fff" stroke="#141414" stroke-width="0.95"/>
<rect x="159.32" y="319.4" width="4.05" height="7.3" fill="#fff" stroke="#141414" stroke-width="0.95"/>
<rect x="168.24" y="323.8" width="4.05" height="2.9" fill="#fff" stroke="#141414" stroke-width="0.95"/>
<line x1="179.19" y1="293.2" x2="179.19" y2="275.6" stroke="#222" stroke-width="0.95" />
<line x1="178.19" y1="275.6" x2="180.19" y2="275.6" stroke="#222" stroke-width="1.0" />
<rect x="177.16" y="293.2" width="4.05" height="33.5" fill="#fff" stroke="#141414" stroke-width="0.95"/>
<line x1="188.1" y1="290.6" x2="188.1" y2="273.7" stroke="#222" stroke-width="0.95" />
<line x1="187.1" y1="273.7" x2="189.1" y2="273.7" stroke="#222" stroke-width="1.0" />
<rect x="186.08" y="290.6" width="4.05" height="36.1" fill="#fff" stroke="#141414" stroke-width="0.95"/>
<line x1="197.03" y1="316.3" x2="197.03" y2="312.3" stroke="#222" stroke-width="0.95" />
<line x1="196.03" y1="312.3" x2="198.03" y2="312.3" stroke="#222" stroke-width="1.0" />
<rect x="195" y="316.3" width="4.05" height="10.4" fill="#fff" stroke="#141414" stroke-width="0.95"/>
<line x1="205.94" y1="303.7" x2="205.94" y2="288.2" stroke="#222" stroke-width="0.95" />
<line x1="204.94" y1="288.2" x2="206.94" y2="288.2" stroke="#222" stroke-width="1.0" />
<rect x="203.92" y="303.7" width="4.05" height="23" fill="#fff" stroke="#141414" stroke-width="0.95"/>
<line x1="214.87" y1="307.3" x2="214.87" y2="292.2" stroke="#222" stroke-width="0.95" />
<line x1="213.87" y1="292.2" x2="215.87" y2="292.2" stroke="#222" stroke-width="1.0" />
<rect x="212.84" y="307.3" width="4.05" height="19.4" fill="#fff" stroke="#141414" stroke-width="0.95"/>
<rect x="230.68" y="325.4" width="4.05" height="1.3" fill="#fff" stroke="#141414" stroke-width="0.95"/>
<rect x="239.6" y="324.4" width="4.05" height="2.3" fill="#fff" stroke="#141414" stroke-width="0.95"/>
<rect x="248.52" y="314.9" width="4.05" height="11.8" fill="#fff" stroke="#141414" stroke-width="0.95"/>
<line x1="14.05" y1="267.2" x2="14.05" y2="327.2" stroke="#000" stroke-width="1.3" />
<line x1="13.45" y1="326.7" x2="255.7" y2="326.7" stroke="#000" stroke-width="1.3" />
<line x1="12.35" y1="267.6" x2="14.05" y2="267.6" stroke="#333" stroke-width="0.8" />
<text x="12.05" y="269" font-size="2.9" font-weight="normal" text-anchor="end" fill="#444" >5</text>
<line x1="12.35" y1="279.42" x2="14.05" y2="279.42" stroke="#333" stroke-width="0.8" />
<text x="12.05" y="280.82" font-size="2.9" font-weight="normal" text-anchor="end" fill="#444" >4</text>
<line x1="12.35" y1="291.24" x2="14.05" y2="291.24" stroke="#333" stroke-width="0.8" />
<text x="12.05" y="292.64" font-size="2.9" font-weight="normal" text-anchor="end" fill="#444" >3</text>
<line x1="12.35" y1="303.06" x2="14.05" y2="303.06" stroke="#333" stroke-width="0.8" />
<text x="12.05" y="304.46" font-size="2.9" font-weight="normal" text-anchor="end" fill="#444" >2</text>
<line x1="12.35" y1="314.88" x2="14.05" y2="314.88" stroke="#333" stroke-width="0.8" />
<text x="12.05" y="316.28" font-size="2.9" font-weight="normal" text-anchor="end" fill="#444" >1</text>
<line x1="12.35" y1="326.7" x2="14.05" y2="326.7" stroke="#333" stroke-width="0.8" />
<text x="12.05" y="328.1" font-size="2.9" font-weight="normal" text-anchor="end" fill="#444" >0</text>
<line x1="14.16" y1="326.7" x2="14.16" y2="328.3" stroke="#000" stroke-width="0.9" />
<line x1="23.09" y1="326.7" x2="23.09" y2="328.3" stroke="#000" stroke-width="0.9" />
<line x1="32" y1="326.7" x2="32" y2="328.3" stroke="#000" stroke-width="0.9" />
<line x1="40.92" y1="326.7" x2="40.92" y2="328.3" stroke="#000" stroke-width="0.9" />
<line x1="49.84" y1="326.7" x2="49.84" y2="328.3" stroke="#000" stroke-width="0.9" />
<line x1="58.77" y1="326.7" x2="58.77" y2="328.3" stroke="#000" stroke-width="0.9" />
<line x1="67.69" y1="326.7" x2="67.69" y2="328.3" stroke="#000" stroke-width="0.9" />
<line x1="76.6" y1="326.7" x2="76.6" y2="328.3" stroke="#000" stroke-width="0.9" />
<line x1="85.53" y1="326.7" x2="85.53" y2="328.3" stroke="#000" stroke-width="0.9" />
<line x1="94.44" y1="326.7" x2="94.44" y2="328.3" stroke="#000" stroke-width="0.9" />
<line x1="103.37" y1="326.7" x2="103.37" y2="328.3" stroke="#000" stroke-width="0.9" />
<line x1="112.28" y1="326.7" x2="112.28" y2="328.3" stroke="#000" stroke-width="0.9" />
<line x1="121.2" y1="326.7" x2="121.2" y2="328.3" stroke="#000" stroke-width="0.9" />
<line x1="130.12" y1="326.7" x2="130.12" y2="328.3" stroke="#000" stroke-width="0.9" />
<line x1="139.04" y1="326.7" x2="139.04" y2="328.3" stroke="#000" stroke-width="0.9" />
<line x1="147.97" y1="326.7" x2="147.97" y2="328.3" stroke="#000" stroke-width="0.9" />
<line x1="156.88" y1="326.7" x2="156.88" y2="328.3" stroke="#000" stroke-width="0.9" />
<line x1="165.8" y1="326.7" x2="165.8" y2="328.3" stroke="#000" stroke-width="0.9" />
<line x1="174.72" y1="326.7" x2="174.72" y2="328.3" stroke="#000" stroke-width="0.9" />
<line x1="183.64" y1="326.7" x2="183.64" y2="328.3" stroke="#000" stroke-width="0.9" />
<line x1="192.56" y1="326.7" x2="192.56" y2="328.3" stroke="#000" stroke-width="0.9" />
<line x1="201.48" y1="326.7" x2="201.48" y2="328.3" stroke="#000" stroke-width="0.9" />
<line x1="210.41" y1="326.7" x2="210.41" y2="328.3" stroke="#000" stroke-width="0.9" />
<line x1="219.32" y1="326.7" x2="219.32" y2="328.3" stroke="#000" stroke-width="0.9" />
<line x1="228.24" y1="326.7" x2="228.24" y2="328.3" stroke="#000" stroke-width="0.9" />
<line x1="237.16" y1="326.7" x2="237.16" y2="328.3" stroke="#000" stroke-width="0.9" />
<line x1="246.08" y1="326.7" x2="246.08" y2="328.3" stroke="#000" stroke-width="0.9" />
<line x1="255" y1="326.7" x2="255" y2="328.3" stroke="#000" stroke-width="0.9" />
<text transform="translate(20.52 330) rotate(-90)" font-size="3.95" font-weight="normal" text-anchor="end" fill="#262626" letter-spacing="0.3" stroke="#262626" stroke-width="0.1">Mu0</text>
<text transform="translate(29.45 330) rotate(-90)" font-size="3.95" font-weight="normal" text-anchor="end" fill="#262626" letter-spacing="0.3" stroke="#262626" stroke-width="0.1">JH1</text>
<text transform="translate(38.36 330) rotate(-90)" font-size="3.95" font-weight="normal" text-anchor="end" fill="#262626" letter-spacing="0.3" stroke="#262626" stroke-width="0.1">Eλu</text>
<text transform="translate(47.28 330) rotate(-90)" font-size="3.95" font-weight="normal" text-anchor="end" fill="#262626" letter-spacing="0.3" stroke="#262626" stroke-width="0.1">Cλu</text>
<text transform="translate(56.2 330) rotate(-90)" font-size="3.95" font-weight="normal" text-anchor="end" fill="#262626" letter-spacing="0.3" stroke="#262626" stroke-width="0.1">ITEλv</text>
<text transform="translate(65.12 330) rotate(-90)" font-size="3.95" font-weight="normal" text-anchor="end" fill="#262626" letter-spacing="0.3" stroke="#262626" stroke-width="0.1">Jk</text>
<text transform="translate(74.05 330) rotate(-90)" font-size="3.95" font-weight="normal" text-anchor="end" fill="#262626" letter-spacing="0.3" stroke="#262626" stroke-width="0.1">CD79A</text>
<text transform="translate(82.97 330) rotate(-90)" font-size="3.95" font-weight="normal" text-anchor="end" fill="#262626" letter-spacing="0.3" stroke="#262626" stroke-width="0.1">CD79B</text>
<text transform="translate(91.89 330) rotate(-90)" font-size="3.95" font-weight="normal" text-anchor="end" fill="#262626" letter-spacing="0.3" stroke="#262626" stroke-width="0.1">CD79Bm</text>
<text transform="translate(100.81 330) rotate(-90)" font-size="3.95" font-weight="normal" text-anchor="end" fill="#262626" letter-spacing="0.3" stroke="#262626" stroke-width="0.1">EBF</text>
<text transform="translate(109.73 330) rotate(-90)" font-size="3.95" font-weight="normal" text-anchor="end" fill="#262626" letter-spacing="0.3" stroke="#262626" stroke-width="0.1">PAX5</text>
<text transform="translate(118.65 330) rotate(-90)" font-size="3.95" font-weight="normal" text-anchor="end" fill="#262626" letter-spacing="0.3" stroke="#262626" stroke-width="0.1">TDT</text>
<text transform="translate(127.56 330) rotate(-90)" font-size="3.95" font-weight="normal" text-anchor="end" fill="#262626" letter-spacing="0.3" stroke="#262626" stroke-width="0.1">RAG1</text>
<text transform="translate(136.49 330) rotate(-90)" font-size="3.95" font-weight="normal" text-anchor="end" fill="#262626" letter-spacing="0.3" stroke="#262626" stroke-width="0.1">CD3d</text>
<text transform="translate(145.41 330) rotate(-90)" font-size="3.95" font-weight="normal" text-anchor="end" fill="#262626" letter-spacing="0.3" stroke="#262626" stroke-width="0.1">2B12</text>
<text transform="translate(154.33 330) rotate(-90)" font-size="3.95" font-weight="normal" text-anchor="end" fill="#262626" letter-spacing="0.3" stroke="#262626" stroke-width="0.1">Enhb</text>
<text transform="translate(163.25 330) rotate(-90)" font-size="3.95" font-weight="normal" text-anchor="end" fill="#262626" letter-spacing="0.3" stroke="#262626" stroke-width="0.1">CD3</text>
<text transform="translate(172.16 330) rotate(-90)" font-size="3.95" font-weight="normal" text-anchor="end" fill="#262626" letter-spacing="0.3" stroke="#262626" stroke-width="0.1">GATA3</text>
<text transform="translate(181.09 330) rotate(-90)" font-size="3.95" font-weight="normal" text-anchor="end" fill="#262626" letter-spacing="0.3" stroke="#262626" stroke-width="0.1">HS4</text>
<text transform="translate(190 330) rotate(-90)" font-size="3.95" font-weight="normal" text-anchor="end" fill="#262626" letter-spacing="0.3" stroke="#262626" stroke-width="0.1">HS2</text>
<text transform="translate(198.93 330) rotate(-90)" font-size="3.95" font-weight="normal" text-anchor="end" fill="#262626" letter-spacing="0.3" stroke="#262626" stroke-width="0.1">Bprom</text>
<text transform="translate(207.84 330) rotate(-90)" font-size="3.95" font-weight="normal" text-anchor="end" fill="#262626" letter-spacing="0.3" stroke="#262626" stroke-width="0.1">EPO R</text>
<text transform="translate(216.77 330) rotate(-90)" font-size="3.95" font-weight="normal" text-anchor="end" fill="#262626" letter-spacing="0.3" stroke="#262626" stroke-width="0.1">TAL1</text>
<text transform="translate(225.69 330) rotate(-90)" font-size="3.95" font-weight="normal" text-anchor="end" fill="#262626" letter-spacing="0.3" stroke="#262626" stroke-width="0.1">C-FMS</text>
<text transform="translate(234.6 330) rotate(-90)" font-size="3.95" font-weight="normal" text-anchor="end" fill="#262626" letter-spacing="0.3" stroke="#262626" stroke-width="0.1">PAX6</text>
<text transform="translate(243.53 330) rotate(-90)" font-size="3.95" font-weight="normal" text-anchor="end" fill="#262626" letter-spacing="0.3" stroke="#262626" stroke-width="0.1">THP</text>
<text transform="translate(252.44 330) rotate(-90)" font-size="3.95" font-weight="normal" text-anchor="end" fill="#262626" letter-spacing="0.3" stroke="#262626" stroke-width="0.1">B2m</text>
<text transform="translate(5 299.65) rotate(-90) scale(1.02 1)" font-size="6.4" font-weight="normal" text-anchor="middle" fill="#262626" >relative enrichment</text>
</g>
<g id="chart-B3">
<rect x="280.8" y="326" width="3.75" height="1.3" fill="#fff" stroke="#141414" stroke-width="0.95"/>
<rect x="289.73" y="326" width="3.75" height="1.3" fill="#fff" stroke="#141414" stroke-width="0.95"/>
<rect x="298.65" y="325.4" width="3.75" height="1.9" fill="#fff" stroke="#141414" stroke-width="0.95"/>
<rect x="307.57" y="324" width="3.75" height="3.3" fill="#fff" stroke="#141414" stroke-width="0.95"/>
<rect x="325.43" y="326" width="3.75" height="1.3" fill="#fff" stroke="#141414" stroke-width="0.95"/>
<rect x="334.35" y="324" width="3.75" height="3.3" fill="#fff" stroke="#141414" stroke-width="0.95"/>
<rect x="343.28" y="324.8" width="3.75" height="2.5" fill="#fff" stroke="#141414" stroke-width="0.95"/>
<rect x="352.2" y="324.8" width="3.75" height="2.5" fill="#fff" stroke="#141414" stroke-width="0.95"/>
<rect x="361.12" y="323.4" width="3.75" height="3.9" fill="#fff" stroke="#141414" stroke-width="0.95"/>
<rect x="370.05" y="326" width="3.75" height="1.3" fill="#fff" stroke="#141414" stroke-width="0.95"/>
<rect x="378.98" y="325.4" width="3.75" height="1.9" fill="#fff" stroke="#141414" stroke-width="0.95"/>
<rect x="387.9" y="326" width="3.75" height="1.3" fill="#fff" stroke="#141414" stroke-width="0.95"/>
<rect x="396.83" y="324.8" width="3.75" height="2.5" fill="#fff" stroke="#141414" stroke-width="0.95"/>
<rect x="423.6" y="324" width="3.75" height="3.3" fill="#fff" stroke="#141414" stroke-width="0.95"/>
<rect x="432.53" y="324.4" width="3.75" height="2.9" fill="#fff" stroke="#141414" stroke-width="0.95"/>
<line x1="443.33" y1="307.3" x2="443.33" y2="299.2" stroke="#222" stroke-width="0.95" />
<line x1="442.33" y1="299.2" x2="444.33" y2="299.2" stroke="#222" stroke-width="1.0" />
<rect x="441.45" y="307.3" width="3.75" height="20" fill="#fff" stroke="#141414" stroke-width="0.95"/>
<line x1="452.25" y1="309.3" x2="452.25" y2="299.2" stroke="#222" stroke-width="0.95" />
<line x1="451.25" y1="299.2" x2="453.25" y2="299.2" stroke="#222" stroke-width="1.0" />
<rect x="450.38" y="309.3" width="3.75" height="18" fill="#fff" stroke="#141414" stroke-width="0.95"/>
<line x1="461.18" y1="318.3" x2="461.18" y2="310.7" stroke="#222" stroke-width="0.95" />
<line x1="460.18" y1="310.7" x2="462.18" y2="310.7" stroke="#222" stroke-width="1.0" />
<rect x="459.3" y="318.3" width="3.75" height="9" fill="#fff" stroke="#141414" stroke-width="0.95"/>
<line x1="470.1" y1="306.3" x2="470.1" y2="296.2" stroke="#222" stroke-width="0.95" />
<line x1="469.1" y1="296.2" x2="471.1" y2="296.2" stroke="#222" stroke-width="1.0" />
<rect x="468.23" y="306.3" width="3.75" height="21" fill="#fff" stroke="#141414" stroke-width="0.95"/>
<line x1="479.03" y1="298.6" x2="479.03" y2="288.6" stroke="#222" stroke-width="0.95" />
<line x1="478.03" y1="288.6" x2="480.03" y2="288.6" stroke="#222" stroke-width="1.0" />
<rect x="477.15" y="298.6" width="3.75" height="28.7" fill="#fff" stroke="#141414" stroke-width="0.95"/>
<rect x="486.08" y="326.6" width="3.75" height="0.7" fill="#fff" stroke="#141414" stroke-width="0.95"/>
<rect x="495" y="326.6" width="3.75" height="0.7" fill="#fff" stroke="#141414" stroke-width="0.95"/>
<rect x="503.93" y="326.6" width="3.75" height="0.7" fill="#fff" stroke="#141414" stroke-width="0.95"/>
<rect x="512.85" y="308.3" width="3.75" height="19" fill="#fff" stroke="#141414" stroke-width="0.95"/>
<line x1="278.5" y1="270.6" x2="278.5" y2="327.8" stroke="#000" stroke-width="1.3" />
<line x1="277.9" y1="327.3" x2="520" y2="327.3" stroke="#000" stroke-width="1.3" />
<line x1="276.8" y1="271" x2="278.5" y2="271" stroke="#333" stroke-width="0.8" />
<text x="276.5" y="272.4" font-size="2.9" font-weight="normal" text-anchor="end" fill="#444" >3</text>
<line x1="276.8" y1="289.77" x2="278.5" y2="289.77" stroke="#333" stroke-width="0.8" />
<text x="276.5" y="291.17" font-size="2.9" font-weight="normal" text-anchor="end" fill="#444" >2</text>
<line x1="276.8" y1="308.53" x2="278.5" y2="308.53" stroke="#333" stroke-width="0.8" />
<text x="276.5" y="309.93" font-size="2.9" font-weight="normal" text-anchor="end" fill="#444" >1</text>
<line x1="276.8" y1="327.3" x2="278.5" y2="327.3" stroke="#333" stroke-width="0.8" />
<text x="276.5" y="328.7" font-size="2.9" font-weight="normal" text-anchor="end" fill="#444" >0</text>
<line x1="278.21" y1="327.3" x2="278.21" y2="328.9" stroke="#000" stroke-width="0.9" />
<line x1="287.14" y1="327.3" x2="287.14" y2="328.9" stroke="#000" stroke-width="0.9" />
<line x1="296.06" y1="327.3" x2="296.06" y2="328.9" stroke="#000" stroke-width="0.9" />
<line x1="304.99" y1="327.3" x2="304.99" y2="328.9" stroke="#000" stroke-width="0.9" />
<line x1="313.91" y1="327.3" x2="313.91" y2="328.9" stroke="#000" stroke-width="0.9" />
<line x1="322.84" y1="327.3" x2="322.84" y2="328.9" stroke="#000" stroke-width="0.9" />
<line x1="331.76" y1="327.3" x2="331.76" y2="328.9" stroke="#000" stroke-width="0.9" />
<line x1="340.69" y1="327.3" x2="340.69" y2="328.9" stroke="#000" stroke-width="0.9" />
<line x1="349.61" y1="327.3" x2="349.61" y2="328.9" stroke="#000" stroke-width="0.9" />
<line x1="358.54" y1="327.3" x2="358.54" y2="328.9" stroke="#000" stroke-width="0.9" />
<line x1="367.46" y1="327.3" x2="367.46" y2="328.9" stroke="#000" stroke-width="0.9" />
<line x1="376.39" y1="327.3" x2="376.39" y2="328.9" stroke="#000" stroke-width="0.9" />
<line x1="385.31" y1="327.3" x2="385.31" y2="328.9" stroke="#000" stroke-width="0.9" />
<line x1="394.24" y1="327.3" x2="394.24" y2="328.9" stroke="#000" stroke-width="0.9" />
<line x1="403.16" y1="327.3" x2="403.16" y2="328.9" stroke="#000" stroke-width="0.9" />
<line x1="412.09" y1="327.3" x2="412.09" y2="328.9" stroke="#000" stroke-width="0.9" />
<line x1="421.01" y1="327.3" x2="421.01" y2="328.9" stroke="#000" stroke-width="0.9" />
<line x1="429.94" y1="327.3" x2="429.94" y2="328.9" stroke="#000" stroke-width="0.9" />
<line x1="438.86" y1="327.3" x2="438.86" y2="328.9" stroke="#000" stroke-width="0.9" />
<line x1="447.79" y1="327.3" x2="447.79" y2="328.9" stroke="#000" stroke-width="0.9" />
<line x1="456.71" y1="327.3" x2="456.71" y2="328.9" stroke="#000" stroke-width="0.9" />
<line x1="465.64" y1="327.3" x2="465.64" y2="328.9" stroke="#000" stroke-width="0.9" />
<line x1="474.56" y1="327.3" x2="474.56" y2="328.9" stroke="#000" stroke-width="0.9" />
<line x1="483.49" y1="327.3" x2="483.49" y2="328.9" stroke="#000" stroke-width="0.9" />
<line x1="492.41" y1="327.3" x2="492.41" y2="328.9" stroke="#000" stroke-width="0.9" />
<line x1="501.34" y1="327.3" x2="501.34" y2="328.9" stroke="#000" stroke-width="0.9" />
<line x1="510.26" y1="327.3" x2="510.26" y2="328.9" stroke="#000" stroke-width="0.9" />
<line x1="519.19" y1="327.3" x2="519.19" y2="328.9" stroke="#000" stroke-width="0.9" />
<text transform="translate(284.57 331) rotate(-90)" font-size="3.95" font-weight="normal" text-anchor="end" fill="#262626" letter-spacing="0.3" stroke="#262626" stroke-width="0.1">Mu0</text>
<text transform="translate(293.5 331) rotate(-90)" font-size="3.95" font-weight="normal" text-anchor="end" fill="#262626" letter-spacing="0.3" stroke="#262626" stroke-width="0.1">JH1</text>
<text transform="translate(302.43 331) rotate(-90)" font-size="3.95" font-weight="normal" text-anchor="end" fill="#262626" letter-spacing="0.3" stroke="#262626" stroke-width="0.1">Eλu</text>
<text transform="translate(311.35 331) rotate(-90)" font-size="3.95" font-weight="normal" text-anchor="end" fill="#262626" letter-spacing="0.3" stroke="#262626" stroke-width="0.1">Cλu</text>
<text transform="translate(320.27 331) rotate(-90)" font-size="3.95" font-weight="normal" text-anchor="end" fill="#262626" letter-spacing="0.3" stroke="#262626" stroke-width="0.1">ITEλv</text>
<text transform="translate(329.2 331) rotate(-90)" font-size="3.95" font-weight="normal" text-anchor="end" fill="#262626" letter-spacing="0.3" stroke="#262626" stroke-width="0.1">Jk</text>
<text transform="translate(338.12 331) rotate(-90)" font-size="3.95" font-weight="normal" text-anchor="end" fill="#262626" letter-spacing="0.3" stroke="#262626" stroke-width="0.1">CD79A</text>
<text transform="translate(347.05 331) rotate(-90)" font-size="3.95" font-weight="normal" text-anchor="end" fill="#262626" letter-spacing="0.3" stroke="#262626" stroke-width="0.1">CD79B</text>
<text transform="translate(355.98 331) rotate(-90)" font-size="3.95" font-weight="normal" text-anchor="end" fill="#262626" letter-spacing="0.3" stroke="#262626" stroke-width="0.1">CD79Bm</text>
<text transform="translate(364.9 331) rotate(-90)" font-size="3.95" font-weight="normal" text-anchor="end" fill="#262626" letter-spacing="0.3" stroke="#262626" stroke-width="0.1">EBF</text>
<text transform="translate(373.82 331) rotate(-90)" font-size="3.95" font-weight="normal" text-anchor="end" fill="#262626" letter-spacing="0.3" stroke="#262626" stroke-width="0.1">PAX5</text>
<text transform="translate(382.75 331) rotate(-90)" font-size="3.95" font-weight="normal" text-anchor="end" fill="#262626" letter-spacing="0.3" stroke="#262626" stroke-width="0.1">TDT</text>
<text transform="translate(391.68 331) rotate(-90)" font-size="3.95" font-weight="normal" text-anchor="end" fill="#262626" letter-spacing="0.3" stroke="#262626" stroke-width="0.1">RAG1</text>
<text transform="translate(400.6 331) rotate(-90)" font-size="3.95" font-weight="normal" text-anchor="end" fill="#262626" letter-spacing="0.3" stroke="#262626" stroke-width="0.1">CD3d</text>
<text transform="translate(409.52 331) rotate(-90)" font-size="3.95" font-weight="normal" text-anchor="end" fill="#262626" letter-spacing="0.3" stroke="#262626" stroke-width="0.1">2B12</text>
<text transform="translate(418.45 331) rotate(-90)" font-size="3.95" font-weight="normal" text-anchor="end" fill="#262626" letter-spacing="0.3" stroke="#262626" stroke-width="0.1">Enhb</text>
<text transform="translate(427.38 331) rotate(-90)" font-size="3.95" font-weight="normal" text-anchor="end" fill="#262626" letter-spacing="0.3" stroke="#262626" stroke-width="0.1">CD3</text>
<text transform="translate(436.3 331) rotate(-90)" font-size="3.95" font-weight="normal" text-anchor="end" fill="#262626" letter-spacing="0.3" stroke="#262626" stroke-width="0.1">GATA3</text>
<text transform="translate(445.23 331) rotate(-90)" font-size="3.95" font-weight="normal" text-anchor="end" fill="#262626" letter-spacing="0.3" stroke="#262626" stroke-width="0.1">HS4</text>
<text transform="translate(454.15 331) rotate(-90)" font-size="3.95" font-weight="normal" text-anchor="end" fill="#262626" letter-spacing="0.3" stroke="#262626" stroke-width="0.1">HS2</text>
<text transform="translate(463.07 331) rotate(-90)" font-size="3.95" font-weight="normal" text-anchor="end" fill="#262626" letter-spacing="0.3" stroke="#262626" stroke-width="0.1">Bprom</text>
<text transform="translate(472 331) rotate(-90)" font-size="3.95" font-weight="normal" text-anchor="end" fill="#262626" letter-spacing="0.3" stroke="#262626" stroke-width="0.1">EPO R</text>
<text transform="translate(480.93 331) rotate(-90)" font-size="3.95" font-weight="normal" text-anchor="end" fill="#262626" letter-spacing="0.3" stroke="#262626" stroke-width="0.1">TAL1</text>
<text transform="translate(489.85 331) rotate(-90)" font-size="3.95" font-weight="normal" text-anchor="end" fill="#262626" letter-spacing="0.3" stroke="#262626" stroke-width="0.1">C-FMS</text>
<text transform="translate(498.77 331) rotate(-90)" font-size="3.95" font-weight="normal" text-anchor="end" fill="#262626" letter-spacing="0.3" stroke="#262626" stroke-width="0.1">PAX6</text>
<text transform="translate(507.7 331) rotate(-90)" font-size="3.95" font-weight="normal" text-anchor="end" fill="#262626" letter-spacing="0.3" stroke="#262626" stroke-width="0.1">THP</text>
<text transform="translate(516.62 331) rotate(-90)" font-size="3.95" font-weight="normal" text-anchor="end" fill="#262626" letter-spacing="0.3" stroke="#262626" stroke-width="0.1">B2m</text>
<text transform="translate(270 297.05) rotate(-90) scale(1.02 1)" font-size="6.47" font-weight="normal" text-anchor="middle" fill="#262626" >relative enrichment</text>
</g>
<line x1="15.1" y1="44.1" x2="51.2" y2="44.1" stroke="#000" stroke-width="1.35" />
<line x1="66.6" y1="44.1" x2="127.6" y2="44.1" stroke="#000" stroke-width="1.35" />
<line x1="143.3" y1="44.1" x2="174" y2="44.1" stroke="#000" stroke-width="1.35" />
<line x1="15.8" y1="43.43" x2="15.8" y2="48.9" stroke="#000" stroke-width="1.35" />
<line x1="173.4" y1="43.43" x2="173.4" y2="48.9" stroke="#000" stroke-width="1.35" />
<text transform="translate(58.7 46.65) scale(0.89 1)" font-size="8.3" font-weight="bold" text-anchor="middle" fill="#000" stroke="#000" stroke-width="0.2">B</text>
<text transform="translate(134.7 46.65) scale(0.89 1)" font-size="8.3" font-weight="bold" text-anchor="middle" fill="#000" stroke="#000" stroke-width="0.2">T</text>
<line x1="176.6" y1="44.1" x2="188.7" y2="44.1" stroke="#000" stroke-width="1.35" />
<line x1="200.2" y1="44.1" x2="214.7" y2="44.1" stroke="#000" stroke-width="1.35" />
<line x1="177.2" y1="43.43" x2="177.2" y2="48.8" stroke="#000" stroke-width="1.35" />
<line x1="214.1" y1="43.43" x2="214.1" y2="48.8" stroke="#000" stroke-width="1.35" />
<text transform="translate(194.4 46.65) scale(0.89 1)" font-size="8.3" font-weight="bold" text-anchor="middle" fill="#000" stroke="#000" stroke-width="0.2">E</text>
<text transform="translate(221.3 46.65) scale(0.89 1)" font-size="8.3" font-weight="bold" text-anchor="middle" fill="#000" stroke="#000" stroke-width="0.2">M</text>
<line x1="229" y1="44.1" x2="232.6" y2="44.1" stroke="#000" stroke-width="1.35" />
<line x1="242.8" y1="44.1" x2="245.5" y2="44.1" stroke="#000" stroke-width="1.35" />
<line x1="229.6" y1="43.43" x2="229.6" y2="48.6" stroke="#000" stroke-width="1.35" />
<line x1="244.9" y1="43.43" x2="244.9" y2="48.6" stroke="#000" stroke-width="1.35" />
<text transform="translate(236.7 46.65) scale(0.89 1)" font-size="8.3" font-weight="bold" text-anchor="middle" fill="#000" stroke="#000" stroke-width="0.2">N</text>
<text transform="translate(251.6 44.4) rotate(-90) scale(0.9 1)" font-size="7.7" font-weight="bold" text-anchor="middle" fill="#000" >B2m</text>
<line x1="279.7" y1="44.35" x2="315.8" y2="44.35" stroke="#000" stroke-width="1.35" />
<line x1="331.2" y1="44.35" x2="392.2" y2="44.35" stroke="#000" stroke-width="1.35" />
<line x1="407.9" y1="44.35" x2="438.6" y2="44.35" stroke="#000" stroke-width="1.35" />
<line x1="280.4" y1="43.68" x2="280.4" y2="49.15" stroke="#000" stroke-width="1.35" />
<line x1="438" y1="43.68" x2="438" y2="49.15" stroke="#000" stroke-width="1.35" />
<text transform="translate(323.3 46.9) scale(0.89 1)" font-size="8.3" font-weight="bold" text-anchor="middle" fill="#000" stroke="#000" stroke-width="0.2">B</text>
<text transform="translate(399.3 46.9) scale(0.89 1)" font-size="8.3" font-weight="bold" text-anchor="middle" fill="#000" stroke="#000" stroke-width="0.2">T</text>
<line x1="441.2" y1="44.35" x2="453.3" y2="44.35" stroke="#000" stroke-width="1.35" />
<line x1="464.8" y1="44.35" x2="479.3" y2="44.35" stroke="#000" stroke-width="1.35" />
<line x1="441.8" y1="43.68" x2="441.8" y2="49.05" stroke="#000" stroke-width="1.35" />
<line x1="478.7" y1="43.68" x2="478.7" y2="49.05" stroke="#000" stroke-width="1.35" />
<text transform="translate(459 46.9) scale(0.89 1)" font-size="8.3" font-weight="bold" text-anchor="middle" fill="#000" stroke="#000" stroke-width="0.2">E</text>
<text transform="translate(485.9 46.9) scale(0.89 1)" font-size="8.3" font-weight="bold" text-anchor="middle" fill="#000" stroke="#000" stroke-width="0.2">M</text>
<line x1="493.6" y1="44.35" x2="497.2" y2="44.35" stroke="#000" stroke-width="1.35" />
<line x1="507.4" y1="44.35" x2="510.1" y2="44.35" stroke="#000" stroke-width="1.35" />
<line x1="494.2" y1="43.68" x2="494.2" y2="48.85" stroke="#000" stroke-width="1.35" />
<line x1="509.5" y1="43.68" x2="509.5" y2="48.85" stroke="#000" stroke-width="1.35" />
<text transform="translate(501.3 46.9) scale(0.89 1)" font-size="8.3" font-weight="bold" text-anchor="middle" fill="#000" stroke="#000" stroke-width="0.2">N</text>
<text transform="translate(516.2 44.65) rotate(-90) scale(0.9 1)" font-size="7.7" font-weight="bold" text-anchor="middle" fill="#000" >B2m</text>
<line x1="18.1" y1="154.4" x2="64.4" y2="154.4" stroke="#000" stroke-width="1.35" />
<line x1="79.5" y1="154.4" x2="130.3" y2="154.4" stroke="#000" stroke-width="1.35" />
<line x1="18.6" y1="153.72" x2="18.6" y2="159" stroke="#000" stroke-width="1.35" />
<line x1="129.8" y1="153.72" x2="129.8" y2="159" stroke="#000" stroke-width="1.35" />
<text transform="translate(70.7 156.95) scale(0.89 1)" font-size="8.3" font-weight="bold" text-anchor="middle" fill="#000" stroke="#000" stroke-width="0.2">B</text>
<line x1="279.7" y1="155.3" x2="325.4" y2="155.3" stroke="#000" stroke-width="1.35" />
<line x1="341" y1="155.3" x2="391.9" y2="155.3" stroke="#000" stroke-width="1.35" />
<line x1="280.2" y1="154.62" x2="280.2" y2="159.8" stroke="#000" stroke-width="1.35" />
<line x1="391.4" y1="154.62" x2="391.4" y2="159.8" stroke="#000" stroke-width="1.35" />
<text transform="translate(332.2 157.85) scale(0.89 1)" font-size="8.3" font-weight="bold" text-anchor="middle" fill="#000" stroke="#000" stroke-width="0.2">B</text>
<line x1="173" y1="267.8" x2="188.2" y2="267.8" stroke="#000" stroke-width="1.35" />
<line x1="204.3" y1="267.8" x2="220.6" y2="267.8" stroke="#000" stroke-width="1.35" />
<line x1="173.7" y1="267.12" x2="173.7" y2="272" stroke="#000" stroke-width="1.35" />
<line x1="219.9" y1="267.12" x2="219.9" y2="272" stroke="#000" stroke-width="1.35" />
<text transform="translate(195 270.35) scale(0.89 1)" font-size="8.3" font-weight="bold" text-anchor="middle" fill="#000" stroke="#000" stroke-width="0.2">E</text>
<line x1="437.7" y1="269" x2="452.2" y2="269" stroke="#000" stroke-width="1.35" />
<line x1="468.3" y1="269" x2="483.4" y2="269" stroke="#000" stroke-width="1.35" />
<line x1="438.2" y1="268.32" x2="438.2" y2="273.5" stroke="#000" stroke-width="1.35" />
<line x1="482.9" y1="268.32" x2="482.9" y2="273.5" stroke="#000" stroke-width="1.35" />
<text transform="translate(458.5 271.55) scale(0.89 1)" font-size="8.3" font-weight="bold" text-anchor="middle" fill="#000" stroke="#000" stroke-width="0.2">E</text>
<text transform="translate(8.3 8.3) scale(1.08 1)" font-size="10.9" font-weight="bold" text-anchor="start" fill="#000" stroke="#000" stroke-width="0.3">A</text>
<text transform="translate(272.4 8.35) scale(1.08 1)" font-size="10.9" font-weight="bold" text-anchor="start" fill="#000" stroke="#000" stroke-width="0.3">B</text>
<text transform="translate(8.4 31.05) scale(1.1 1)" font-size="9.0" font-weight="bold" text-anchor="start" fill="#000" stroke="#000" stroke-width="0.3">CD34<tspan font-size="6.0" dy="-4.1">+</tspan><tspan dy="4.1" font-size="9">&#8203;</tspan>CD38<tspan font-size="6.1" font-weight="normal" stroke-width="0.1" dy="-3.2">lo</tspan><tspan dy="3.2" font-size="9">&#8203;</tspan></text>
<text transform="translate(8.4 143.85) scale(1.1 1)" font-size="9.0" font-weight="bold" text-anchor="start" fill="#000" stroke="#000" stroke-width="0.3">CD19<tspan font-size="6.0" dy="-4.1">+</tspan><tspan dy="4.1" font-size="9">&#8203;</tspan></text>
<text transform="translate(8.4 255) scale(1.1 1)" font-size="9.0" font-weight="bold" text-anchor="start" fill="#000" stroke="#000" stroke-width="0.3">GpA<tspan font-size="6.0" dy="-4.1">+</tspan><tspan dy="4.1" font-size="9">&#8203;</tspan></text>
<text transform="translate(272.6 31.05) scale(1.1 1)" font-size="9.0" font-weight="bold" text-anchor="start" fill="#000" stroke="#000" stroke-width="0.3">CD34<tspan font-size="6.0" dy="-4.1">+</tspan><tspan dy="4.1" font-size="9">&#8203;</tspan>CD38<tspan font-size="6.1" font-weight="normal" stroke-width="0.1" dy="-3.2">lo</tspan><tspan dy="3.2" font-size="9">&#8203;</tspan></text>
<text transform="translate(272.6 143.85) scale(1.1 1)" font-size="9.0" font-weight="bold" text-anchor="start" fill="#000" stroke="#000" stroke-width="0.3">CD19<tspan font-size="6.0" dy="-4.1">+</tspan><tspan dy="4.1" font-size="9">&#8203;</tspan></text>
<text transform="translate(272.6 255) scale(1.1 1)" font-size="9.0" font-weight="bold" text-anchor="start" fill="#000" stroke="#000" stroke-width="0.3">GpA<tspan font-size="6.0" dy="-4.1">+</tspan><tspan dy="4.1" font-size="9">&#8203;</tspan></text>
</svg>
</body>
</html>
